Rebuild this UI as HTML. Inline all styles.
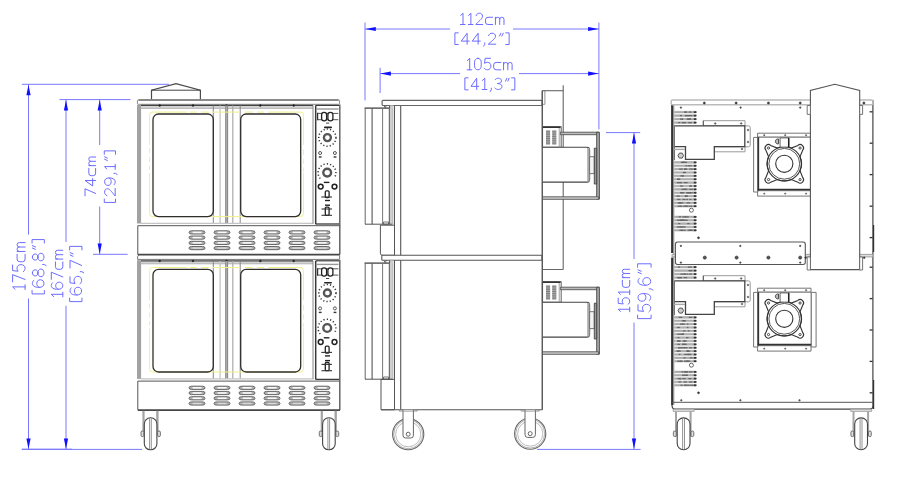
<!DOCTYPE html>
<html><head><meta charset="utf-8"><style>
html,body{margin:0;padding:0;background:#fff;}
body{width:901px;height:478px;overflow:hidden;font-family:"Liberation Sans",sans-serif;}
svg{display:block}
svg path,svg line,svg rect,svg circle,svg polygon{vector-effect:non-scaling-stroke}
</style></head><body>
<svg width="901" height="478" viewBox="0 0 901 478">
<line x1="21.8" y1="84.3" x2="169" y2="84.3" stroke="#7878ff" stroke-width="1.0" />
<line x1="28.5" y1="84.3" x2="28.5" y2="234.6" stroke="#7878ff" stroke-width="1.0" />
<line x1="28.5" y1="298.5" x2="28.5" y2="449.4" stroke="#7878ff" stroke-width="1.0" />
<polygon points="28.5,84.8 26.4,95.3 30.6,95.3" fill="#1010ff"/>
<polygon points="28.5,449 26.4,438.5 30.6,438.5" fill="#1010ff"/>
<line x1="59.5" y1="99.6" x2="130.5" y2="99.6" stroke="#7878ff" stroke-width="1.0" />
<line x1="66" y1="99.6" x2="66" y2="242" stroke="#7878ff" stroke-width="1.0" />
<line x1="66" y1="305.8" x2="66" y2="449.4" stroke="#7878ff" stroke-width="1.0" />
<polygon points="66,100 63.9,110.5 68.1,110.5" fill="#1010ff"/>
<polygon points="66,449 63.9,438.5 68.1,438.5" fill="#1010ff"/>
<line x1="99.7" y1="99.6" x2="99.7" y2="145" stroke="#7878ff" stroke-width="1.0" />
<line x1="99.7" y1="206.5" x2="99.7" y2="254.3" stroke="#7878ff" stroke-width="1.0" />
<line x1="93" y1="254.3" x2="127.7" y2="254.3" stroke="#7878ff" stroke-width="1.0" />
<polygon points="99.7,100 97.60000000000001,110.5 101.8,110.5" fill="#1010ff"/>
<polygon points="99.7,254 97.60000000000001,243.5 101.8,243.5" fill="#1010ff"/>
<line x1="21.8" y1="449.4" x2="142" y2="449.4" stroke="#7878ff" stroke-width="1.0" />
<line x1="21.8" y1="449.2" x2="72" y2="449.2" stroke="#7878ff" stroke-width="1.0" />
<line x1="365" y1="22.5" x2="365" y2="100.4" stroke="#7878ff" stroke-width="1.0" />
<line x1="598.9" y1="22.5" x2="598.9" y2="129.5" stroke="#7878ff" stroke-width="1.0" />
<line x1="365" y1="29" x2="450" y2="29" stroke="#7878ff" stroke-width="1.0" />
<line x1="513" y1="29" x2="598.9" y2="29" stroke="#7878ff" stroke-width="1.0" />
<polygon points="365.3,29 375.8,26.9 375.8,31.1" fill="#1010ff"/>
<polygon points="598.6,29 588.1,26.9 588.1,31.1" fill="#1010ff"/>
<line x1="380.1" y1="67.8" x2="380.1" y2="93" stroke="#7878ff" stroke-width="1.0" />
<line x1="380.1" y1="73.6" x2="460" y2="73.6" stroke="#7878ff" stroke-width="1.0" />
<line x1="519" y1="73.6" x2="598.9" y2="73.6" stroke="#7878ff" stroke-width="1.0" />
<polygon points="380.4,73.6 390.9,71.5 390.9,75.69999999999999" fill="#1010ff"/>
<polygon points="598.6,73.6 588.1,71.5 588.1,75.69999999999999" fill="#1010ff"/>
<line x1="606" y1="132.6" x2="640.2" y2="132.6" stroke="#7878ff" stroke-width="1.0" />
<line x1="537" y1="449.4" x2="640.6" y2="449.4" stroke="#7878ff" stroke-width="1.0" />
<line x1="634" y1="132.6" x2="634" y2="259" stroke="#7878ff" stroke-width="1.0" />
<line x1="634" y1="322.6" x2="634" y2="449.4" stroke="#7878ff" stroke-width="1.0" />
<polygon points="634,133 631.9,143.5 636.1,143.5" fill="#1010ff"/>
<polygon points="634,449 631.9,438.5 636.1,438.5" fill="#1010ff"/>
<g fill="none" stroke="#6c6cff" stroke-width="1.0" stroke-linecap="round" stroke-linejoin="round" style="vector-effect:non-scaling-stroke"><path transform="translate(460.00,13.20) scale(1.1579,1.1300)" d="M0.6,2 L2.6,0 L2.6,10 M0.4,10 L4.4,10"/><path transform="translate(467.87,13.20) scale(1.1579,1.1300)" d="M0.6,2 L2.6,0 L2.6,10 M0.4,10 L4.4,10"/><path transform="translate(475.75,13.20) scale(1.1579,1.1300)" d="M0.3,2.2 C0.8,0.7 1.8,0 3,0 C4.8,0 5.8,1.1 5.8,2.7 C5.8,4.6 4.2,5.8 0,10 L6,10"/><path transform="translate(485.47,13.20) scale(1.1579,1.1300)" d="M6.2,3.6 L2.2,3.6 Q0,3.6 0,5.8 L0,7.8 Q0,10 2.2,10 L6.2,10"/><path transform="translate(495.43,13.20) scale(1.1579,1.1300)" d="M0,10 L0,3.6 M0,5.3 Q0,3.6 1.7,3.6 L2,3.6 Q3.7,3.6 3.7,5.3 L3.7,10 M3.7,5.3 Q3.7,3.6 5.4,3.6 L5.7,3.6 Q7.4,3.6 7.4,5.3 L7.4,10"/></g>
<g fill="none" stroke="#6c6cff" stroke-width="1.0" stroke-linecap="round" stroke-linejoin="round" style="vector-effect:non-scaling-stroke"><path transform="translate(454.50,33.20) scale(1.2500,1.1000)" d="M3,-0.3 L0.3,-0.3 L0.3,10.3 L3,10.3"/><path transform="translate(461.25,33.20) scale(1.2500,1.1000)" d="M4.7,10 L4.7,0 L0,7.2 L6.4,7.2"/><path transform="translate(472.25,33.20) scale(1.2500,1.1000)" d="M4.7,10 L4.7,0 L0,7.2 L6.4,7.2"/><path transform="translate(483.25,33.20) scale(1.2500,1.1000)" d="M1.2,8.8 L1.2,10.2 L0.3,11.8"/><path transform="translate(488.25,33.20) scale(1.2500,1.1000)" d="M0.3,2.2 C0.8,0.7 1.8,0 3,0 C4.8,0 5.8,1.1 5.8,2.7 C5.8,4.6 4.2,5.8 0,10 L6,10"/><path transform="translate(498.75,33.20) scale(1.2500,1.1000)" d="M1.7,0 L0.6,2.6 M3.6,0 L2.5,2.6"/><path transform="translate(505.75,33.20) scale(1.2500,1.1000)" d="M0,-0.3 L2.7,-0.3 L2.7,10.3 L0,10.3"/></g>
<g fill="none" stroke="#6c6cff" stroke-width="1.0" stroke-linecap="round" stroke-linejoin="round" style="vector-effect:non-scaling-stroke"><path transform="translate(466.70,58.30) scale(1.1523,1.1500)" d="M0.6,2 L2.6,0 L2.6,10 M0.4,10 L4.4,10"/><path transform="translate(474.54,58.30) scale(1.1523,1.1500)" d="M2.9,0 C1,0 0,1.6 0,3.6 L0,6.4 C0,8.4 1,10 2.9,10 C4.8,10 5.8,8.4 5.8,6.4 L5.8,3.6 C5.8,1.6 4.8,0 2.9,0 Z"/><path transform="translate(483.98,58.30) scale(1.1523,1.1500)" d="M5.7,0 L1,0 L0.5,4.4 C1.2,3.8 2.1,3.5 3,3.5 C4.8,3.5 6,4.8 6,6.7 C6,8.7 4.7,10 3,10 C1.8,10 0.8,9.5 0.1,8.6"/><path transform="translate(493.66,58.30) scale(1.1523,1.1500)" d="M6.2,3.6 L2.2,3.6 Q0,3.6 0,5.8 L0,7.8 Q0,10 2.2,10 L6.2,10"/><path transform="translate(503.57,58.30) scale(1.1523,1.1500)" d="M0,10 L0,3.6 M0,5.3 Q0,3.6 1.7,3.6 L2,3.6 Q3.7,3.6 3.7,5.3 L3.7,10 M3.7,5.3 Q3.7,3.6 5.4,3.6 L5.7,3.6 Q7.4,3.6 7.4,5.3 L7.4,10"/></g>
<g fill="none" stroke="#6c6cff" stroke-width="1.0" stroke-linecap="round" stroke-linejoin="round" style="vector-effect:non-scaling-stroke"><path transform="translate(464.50,78.20) scale(1.2071,1.1300)" d="M3,-0.3 L0.3,-0.3 L0.3,10.3 L3,10.3"/><path transform="translate(471.02,78.20) scale(1.2071,1.1300)" d="M4.7,10 L4.7,0 L0,7.2 L6.4,7.2"/><path transform="translate(481.64,78.20) scale(1.2071,1.1300)" d="M0.6,2 L2.6,0 L2.6,10 M0.4,10 L4.4,10"/><path transform="translate(489.85,78.20) scale(1.2071,1.1300)" d="M1.2,8.8 L1.2,10.2 L0.3,11.8"/><path transform="translate(494.68,78.20) scale(1.2071,1.1300)" d="M0.4,1.3 C1.1,0.4 2,0 3,0 C4.6,0 5.6,1 5.6,2.4 C5.6,3.9 4.4,4.7 2.6,4.7 M2.6,4.7 C4.7,4.7 6,5.8 6,7.3 C6,9 4.7,10 3,10 C1.8,10 0.8,9.5 0.1,8.6"/><path transform="translate(504.82,78.20) scale(1.2071,1.1300)" d="M1.7,0 L0.6,2.6 M3.6,0 L2.5,2.6"/><path transform="translate(511.58,78.20) scale(1.2071,1.1300)" d="M0,-0.3 L2.7,-0.3 L2.7,10.3 L0,10.3"/></g>
<g fill="none" stroke="#6c6cff" stroke-width="1.0" stroke-linecap="round" stroke-linejoin="round" style="vector-effect:non-scaling-stroke"><path transform="matrix(0,-1.1970,1.2500,0,12.60,290.00)" d="M0.6,2 L2.6,0 L2.6,10 M0.4,10 L4.4,10"/><path transform="matrix(0,-1.1970,1.2500,0,12.60,281.86)" d="M0,0 L6,0 L2,10"/><path transform="matrix(0,-1.1970,1.2500,0,12.60,271.81)" d="M5.7,0 L1,0 L0.5,4.4 C1.2,3.8 2.1,3.5 3,3.5 C4.8,3.5 6,4.8 6,6.7 C6,8.7 4.7,10 3,10 C1.8,10 0.8,9.5 0.1,8.6"/><path transform="matrix(0,-1.1970,1.2500,0,12.60,261.75)" d="M6.2,3.6 L2.2,3.6 Q0,3.6 0,5.8 L0,7.8 Q0,10 2.2,10 L6.2,10"/><path transform="matrix(0,-1.1970,1.2500,0,12.60,251.46)" d="M0,10 L0,3.6 M0,5.3 Q0,3.6 1.7,3.6 L2,3.6 Q3.7,3.6 3.7,5.3 L3.7,10 M3.7,5.3 Q3.7,3.6 5.4,3.6 L5.7,3.6 Q7.4,3.6 7.4,5.3 L7.4,10"/></g>
<g fill="none" stroke="#6c6cff" stroke-width="1.0" stroke-linecap="round" stroke-linejoin="round" style="vector-effect:non-scaling-stroke"><path transform="matrix(0,-1.2755,1.1600,0,32.40,294.30)" d="M3,-0.3 L0.3,-0.3 L0.3,10.3 L3,10.3"/><path transform="matrix(0,-1.2755,1.1600,0,32.40,287.41)" d="M5.5,1.1 C4.9,0.4 4.1,0 3.1,0 C1.2,0 0,2.1 0,5.6 C0,8.5 1.2,10 3,10 C4.8,10 6,8.7 6,6.9 C6,5 4.8,3.8 3.1,3.8 C1.7,3.8 0.5,4.6 0,6"/><path transform="matrix(0,-1.2755,1.1600,0,32.40,276.70)" d="M3,0 C1.6,0 0.6,1 0.6,2.4 C0.6,3.8 1.6,4.7 3,4.7 C4.4,4.7 5.4,3.8 5.4,2.4 C5.4,1 4.4,0 3,0 Z M3,4.7 C1.3,4.7 0,5.7 0,7.3 C0,8.9 1.3,10 3,10 C4.7,10 6,8.9 6,7.3 C6,5.7 4.7,4.7 3,4.7 Z"/><path transform="matrix(0,-1.2755,1.1600,0,32.40,265.98)" d="M1.2,8.8 L1.2,10.2 L0.3,11.8"/><path transform="matrix(0,-1.2755,1.1600,0,32.40,260.88)" d="M3,0 C1.6,0 0.6,1 0.6,2.4 C0.6,3.8 1.6,4.7 3,4.7 C4.4,4.7 5.4,3.8 5.4,2.4 C5.4,1 4.4,0 3,0 Z M3,4.7 C1.3,4.7 0,5.7 0,7.3 C0,8.9 1.3,10 3,10 C4.7,10 6,8.9 6,7.3 C6,5.7 4.7,4.7 3,4.7 Z"/><path transform="matrix(0,-1.2755,1.1600,0,32.40,250.17)" d="M1.7,0 L0.6,2.6 M3.6,0 L2.5,2.6"/><path transform="matrix(0,-1.2755,1.1600,0,32.40,243.03)" d="M0,-0.3 L2.7,-0.3 L2.7,10.3 L0,10.3"/></g>
<g fill="none" stroke="#6c6cff" stroke-width="1.0" stroke-linecap="round" stroke-linejoin="round" style="vector-effect:non-scaling-stroke"><path transform="matrix(0,-1.1894,1.1500,0,51.30,297.40)" d="M0.6,2 L2.6,0 L2.6,10 M0.4,10 L4.4,10"/><path transform="matrix(0,-1.1894,1.1500,0,51.30,289.31)" d="M5.5,1.1 C4.9,0.4 4.1,0 3.1,0 C1.2,0 0,2.1 0,5.6 C0,8.5 1.2,10 3,10 C4.8,10 6,8.7 6,6.9 C6,5 4.8,3.8 3.1,3.8 C1.7,3.8 0.5,4.6 0,6"/><path transform="matrix(0,-1.1894,1.1500,0,51.30,279.32)" d="M0,0 L6,0 L2,10"/><path transform="matrix(0,-1.1894,1.1500,0,51.30,269.33)" d="M6.2,3.6 L2.2,3.6 Q0,3.6 0,5.8 L0,7.8 Q0,10 2.2,10 L6.2,10"/><path transform="matrix(0,-1.1894,1.1500,0,51.30,259.10)" d="M0,10 L0,3.6 M0,5.3 Q0,3.6 1.7,3.6 L2,3.6 Q3.7,3.6 3.7,5.3 L3.7,10 M3.7,5.3 Q3.7,3.6 5.4,3.6 L5.7,3.6 Q7.4,3.6 7.4,5.3 L7.4,10"/></g>
<g fill="none" stroke="#6c6cff" stroke-width="1.0" stroke-linecap="round" stroke-linejoin="round" style="vector-effect:non-scaling-stroke"><path transform="matrix(0,-1.2963,1.1600,0,70.00,302.00)" d="M3,-0.3 L0.3,-0.3 L0.3,10.3 L3,10.3"/><path transform="matrix(0,-1.2963,1.1600,0,70.00,295.00)" d="M5.5,1.1 C4.9,0.4 4.1,0 3.1,0 C1.2,0 0,2.1 0,5.6 C0,8.5 1.2,10 3,10 C4.8,10 6,8.7 6,6.9 C6,5 4.8,3.8 3.1,3.8 C1.7,3.8 0.5,4.6 0,6"/><path transform="matrix(0,-1.2963,1.1600,0,70.00,284.11)" d="M5.7,0 L1,0 L0.5,4.4 C1.2,3.8 2.1,3.5 3,3.5 C4.8,3.5 6,4.8 6,6.7 C6,8.7 4.7,10 3,10 C1.8,10 0.8,9.5 0.1,8.6"/><path transform="matrix(0,-1.2963,1.1600,0,70.00,273.22)" d="M1.2,8.8 L1.2,10.2 L0.3,11.8"/><path transform="matrix(0,-1.2963,1.1600,0,70.00,268.04)" d="M0,0 L6,0 L2,10"/><path transform="matrix(0,-1.2963,1.1600,0,70.00,257.15)" d="M1.7,0 L0.6,2.6 M3.6,0 L2.5,2.6"/><path transform="matrix(0,-1.2963,1.1600,0,70.00,249.89)" d="M0,-0.3 L2.7,-0.3 L2.7,10.3 L0,10.3"/></g>
<g fill="none" stroke="#6c6cff" stroke-width="1.0" stroke-linecap="round" stroke-linejoin="round" style="vector-effect:non-scaling-stroke"><path transform="matrix(0,-1.1687,1.0600,0,85.00,195.80)" d="M0,0 L6,0 L2,10"/><path transform="matrix(0,-1.1687,1.0600,0,85.00,185.98)" d="M4.7,10 L4.7,0 L0,7.2 L6.4,7.2"/><path transform="matrix(0,-1.1687,1.0600,0,85.00,175.70)" d="M6.2,3.6 L2.2,3.6 Q0,3.6 0,5.8 L0,7.8 Q0,10 2.2,10 L6.2,10"/><path transform="matrix(0,-1.1687,1.0600,0,85.00,165.65)" d="M0,10 L0,3.6 M0,5.3 Q0,3.6 1.7,3.6 L2,3.6 Q3.7,3.6 3.7,5.3 L3.7,10 M3.7,5.3 Q3.7,3.6 5.4,3.6 L5.7,3.6 Q7.4,3.6 7.4,5.3 L7.4,10"/></g>
<g fill="none" stroke="#6c6cff" stroke-width="1.0" stroke-linecap="round" stroke-linejoin="round" style="vector-effect:non-scaling-stroke"><path transform="matrix(0,-1.2572,1.0600,0,104.60,202.80)" d="M3,-0.3 L0.3,-0.3 L0.3,10.3 L3,10.3"/><path transform="matrix(0,-1.2572,1.0600,0,104.60,196.01)" d="M0.3,2.2 C0.8,0.7 1.8,0 3,0 C4.8,0 5.8,1.1 5.8,2.7 C5.8,4.6 4.2,5.8 0,10 L6,10"/><path transform="matrix(0,-1.2572,1.0600,0,104.60,185.45)" d="M6,4.4 C5.5,5.5 4.3,6.2 3,6.2 C1.2,6.2 0,5 0,3.1 C0,1.3 1.2,0 3,0 C4.8,0 6,1.5 6,4.4 C6,8 4.8,10 2.9,10 C1.9,10 1.1,9.6 0.5,8.9"/><path transform="matrix(0,-1.2572,1.0600,0,104.60,174.89)" d="M1.2,8.8 L1.2,10.2 L0.3,11.8"/><path transform="matrix(0,-1.2572,1.0600,0,104.60,169.86)" d="M0.6,2 L2.6,0 L2.6,10 M0.4,10 L4.4,10"/><path transform="matrix(0,-1.2572,1.0600,0,104.60,161.31)" d="M1.7,0 L0.6,2.6 M3.6,0 L2.5,2.6"/><path transform="matrix(0,-1.2572,1.0600,0,104.60,154.27)" d="M0,-0.3 L2.7,-0.3 L2.7,10.3 L0,10.3"/></g>
<g fill="none" stroke="#6c6cff" stroke-width="1.0" stroke-linecap="round" stroke-linejoin="round" style="vector-effect:non-scaling-stroke"><path transform="matrix(0,-1.1289,1.1500,0,618.20,312.20)" d="M0.6,2 L2.6,0 L2.6,10 M0.4,10 L4.4,10"/><path transform="matrix(0,-1.1289,1.1500,0,618.20,304.52)" d="M5.7,0 L1,0 L0.5,4.4 C1.2,3.8 2.1,3.5 3,3.5 C4.8,3.5 6,4.8 6,6.7 C6,8.7 4.7,10 3,10 C1.8,10 0.8,9.5 0.1,8.6"/><path transform="matrix(0,-1.1289,1.1500,0,618.20,295.04)" d="M0.6,2 L2.6,0 L2.6,10 M0.4,10 L4.4,10"/><path transform="matrix(0,-1.1289,1.1500,0,618.20,287.36)" d="M6.2,3.6 L2.2,3.6 Q0,3.6 0,5.8 L0,7.8 Q0,10 2.2,10 L6.2,10"/><path transform="matrix(0,-1.1289,1.1500,0,618.20,277.65)" d="M0,10 L0,3.6 M0,5.3 Q0,3.6 1.7,3.6 L2,3.6 Q3.7,3.6 3.7,5.3 L3.7,10 M3.7,5.3 Q3.7,3.6 5.4,3.6 L5.7,3.6 Q7.4,3.6 7.4,5.3 L7.4,10"/></g>
<g fill="none" stroke="#6c6cff" stroke-width="1.0" stroke-linecap="round" stroke-linejoin="round" style="vector-effect:non-scaling-stroke"><path transform="matrix(0,-1.2870,1.2700,0,638.00,319.00)" d="M3,-0.3 L0.3,-0.3 L0.3,10.3 L3,10.3"/><path transform="matrix(0,-1.2870,1.2700,0,638.00,312.05)" d="M5.7,0 L1,0 L0.5,4.4 C1.2,3.8 2.1,3.5 3,3.5 C4.8,3.5 6,4.8 6,6.7 C6,8.7 4.7,10 3,10 C1.8,10 0.8,9.5 0.1,8.6"/><path transform="matrix(0,-1.2870,1.2700,0,638.00,301.24)" d="M6,4.4 C5.5,5.5 4.3,6.2 3,6.2 C1.2,6.2 0,5 0,3.1 C0,1.3 1.2,0 3,0 C4.8,0 6,1.5 6,4.4 C6,8 4.8,10 2.9,10 C1.9,10 1.1,9.6 0.5,8.9"/><path transform="matrix(0,-1.2870,1.2700,0,638.00,290.43)" d="M1.2,8.8 L1.2,10.2 L0.3,11.8"/><path transform="matrix(0,-1.2870,1.2700,0,638.00,285.28)" d="M5.5,1.1 C4.9,0.4 4.1,0 3.1,0 C1.2,0 0,2.1 0,5.6 C0,8.5 1.2,10 3,10 C4.8,10 6,8.7 6,6.9 C6,5 4.8,3.8 3.1,3.8 C1.7,3.8 0.5,4.6 0,6"/><path transform="matrix(0,-1.2870,1.2700,0,638.00,274.47)" d="M1.7,0 L0.6,2.6 M3.6,0 L2.5,2.6"/><path transform="matrix(0,-1.2870,1.2700,0,638.00,267.26)" d="M0,-0.3 L2.7,-0.3 L2.7,10.3 L0,10.3"/></g>
<path d="M151.5,99.6 L151.5,90.2 L176,83.6 L200.4,90.2 L200.4,99.6" fill="#fff" stroke="#4a4a4a" stroke-width="1.2" />
<line x1="151.5" y1="90.2" x2="200.4" y2="90.2" stroke="#444" stroke-width="1.0" />
<rect x="137.4" y="100.0" width="202.2" height="4.3" rx="1" fill="none" stroke="#888" stroke-width="1.0" />
<line x1="138.5" y1="100.0" x2="338.6" y2="100.0" stroke="#777" stroke-width="1.5" />
<rect x="137.0" y="104.8" width="4.099999999999994" height="118.7" rx="0" fill="#a2a2a2" stroke="none" stroke-width="0" />
<rect x="141" y="105.6" width="172" height="2.8000000000000114" rx="0" fill="#d4d4d4" stroke="none" stroke-width="0" />
<line x1="141" y1="108.4" x2="313" y2="108.4" stroke="#aaa" stroke-width="0.8" />
<line x1="141" y1="105.4" x2="313" y2="105.4" stroke="#444" stroke-width="1.2" />
<circle cx="159.7" cy="105.5" r="1.0" fill="#222" stroke="#222" stroke-width="0.4" />
<circle cx="193" cy="105.5" r="1.0" fill="#222" stroke="#222" stroke-width="0.4" />
<circle cx="226.6" cy="105.5" r="1.0" fill="#222" stroke="#222" stroke-width="0.4" />
<circle cx="260.3" cy="105.5" r="1.0" fill="#222" stroke="#222" stroke-width="0.4" />
<circle cx="293.7" cy="105.5" r="1.0" fill="#222" stroke="#222" stroke-width="0.4" />
<rect x="225.7" y="105.6" width="1.9000000000000057" height="117.70000000000002" rx="0" fill="#b4b4b4" stroke="none" stroke-width="0" />
<line x1="213.3" y1="105.6" x2="213.3" y2="223.3" stroke="#888" stroke-width="1.0" />
<line x1="220.1" y1="105.6" x2="220.1" y2="223.3" stroke="#c4c4c4" stroke-width="1.3" />
<line x1="225.7" y1="105.6" x2="225.7" y2="223.3" stroke="#8a8a8a" stroke-width="1.1" />
<line x1="227.6" y1="105.6" x2="227.6" y2="223.3" stroke="#8a8a8a" stroke-width="1.1" />
<line x1="232.8" y1="105.6" x2="232.8" y2="223.3" stroke="#aaa" stroke-width="1.2" />
<line x1="240.2" y1="105.6" x2="240.2" y2="223.3" stroke="#888" stroke-width="1.0" />
<path d="M149.6,145 L149.6,115.1 Q149.6,112.1 152.6,112.1 L187,112.1 M190,112.1 L197,112.1 M201,112.1 L209,112.1 M213,112.1 L240,112.1 M245,112.1 L253,112.1 M257,112.1 L264,112.1 M268,112.1 L300.4,112.1 Q303.4,112.1 303.4,115.1 L303.4,145 M149.6,148 L149.6,153 M149.6,157 L149.6,162 M149.6,165.5 L149.6,170 M149.6,173 L149.6,213.6 Q149.6,216.6 152.6,216.6 L300.4,216.6 Q303.4,216.6 303.4,213.6 L303.4,173 M303.4,149.5 L303.4,155 M303.4,159 L303.4,164 M303.4,167.5 L303.4,172" fill="none" stroke="#f0f08c" stroke-width="1.0" />
<rect x="153" y="114.0" width="60.3" height="102.6" rx="5.5" fill="none" stroke="#2e2e2e" stroke-width="1.3" />
<rect x="240.7" y="114.0" width="60.0" height="102.6" rx="5.5" fill="none" stroke="#2e2e2e" stroke-width="1.3" />
<line x1="141" y1="223.4" x2="313.5" y2="223.4" stroke="#c4c4c4" stroke-width="1.2" />
<line x1="313.0" y1="105.6" x2="313.0" y2="223.6" stroke="#888" stroke-width="1.0" />
<line x1="315.7" y1="105.4" x2="315.7" y2="224.2" stroke="#3a3a3a" stroke-width="1.5" />
<line x1="315.7" y1="105.4" x2="339" y2="105.4" stroke="#3a3a3a" stroke-width="1.2" />
<line x1="316.5" y1="109" x2="338.5" y2="109" stroke="#999" stroke-width="1.4" />
<line x1="315.7" y1="224.0" x2="339" y2="224.0" stroke="#3a3a3a" stroke-width="1.3" />
<line x1="317.6" y1="113.4" x2="338.3" y2="113.4" stroke="#444" stroke-width="0.9" />
<line x1="317.6" y1="119.7" x2="338.3" y2="119.7" stroke="#444" stroke-width="0.9" />
<line x1="317.6" y1="112.8" x2="317.6" y2="120.3" stroke="#333" stroke-width="1.2" />
<g fill="none" stroke="#222" stroke-width="1.3"><rect x="321.6" y="112.4" width="5.0" height="8.4" rx="2.4" fill="#fff"/><rect x="327.9" y="112.4" width="5.0" height="8.4" rx="2.4" fill="#fff"/></g>
<line x1="326" y1="123.1" x2="329.2" y2="123.1" stroke="#444" stroke-width="1.0" />
<line x1="324.8" y1="127.4" x2="331.2" y2="127.4" stroke="#222" stroke-width="1.6" stroke-linecap="round"/>
<circle cx="327.4" cy="137.6" r="3.5" fill="none" stroke="#555" stroke-width="2.3" />
<circle cx="327.4" cy="137.6" r="8.6" fill="none" stroke="#333" stroke-width="1.5" stroke-dasharray="1.2 2.1"/>
<circle cx="320.1" cy="153" r="1.5" fill="none" stroke="#555" stroke-width="1.0" />
<circle cx="334.9" cy="153" r="1.5" fill="none" stroke="#555" stroke-width="1.0" />
<line x1="318.8" y1="157" x2="321.6" y2="157" stroke="#333" stroke-width="1.4" />
<line x1="333.6" y1="157" x2="336.4" y2="157" stroke="#333" stroke-width="1.4" />
<circle cx="327.2" cy="172.6" r="3.9" fill="none" stroke="#555" stroke-width="2.4" />
<path d="M320.3,178.6 A8.9,8.9 0 1 1 335.0,176.6" fill="none" stroke="#333" stroke-width="1.5" stroke-dasharray="1.2 2.1"/>
<circle cx="320.7" cy="186.6" r="2.4" fill="none" stroke="#222" stroke-width="1.5" />
<circle cx="334.5" cy="186.6" r="2.4" fill="none" stroke="#222" stroke-width="1.5" />
<line x1="323.8" y1="182.4" x2="329.4" y2="182.4" stroke="#222" stroke-width="1.4" />
<rect x="325.3" y="190.8" width="3.8" height="6.9" rx="1.2" fill="none" stroke="#222" stroke-width="1.3" />
<line x1="321.3" y1="197" x2="332" y2="197" stroke="#333" stroke-width="1.1" />
<line x1="325" y1="200.5" x2="330" y2="200.5" stroke="#222" stroke-width="1.4" />
<line x1="325" y1="205.2" x2="330" y2="205.2" stroke="#222" stroke-width="1.4" />
<rect x="325.3" y="207.1" width="3.8" height="8.2" rx="1.0" fill="none" stroke="#222" stroke-width="1.3" />
<line x1="321.5" y1="209" x2="332" y2="209" stroke="#333" stroke-width="1.1" />
<line x1="321.5" y1="215.3" x2="332" y2="215.3" stroke="#333" stroke-width="1.1" />
<line x1="137.8" y1="225.7" x2="340" y2="225.7" stroke="#555" stroke-width="1.0" />
<line x1="137.8" y1="225.7" x2="137.8" y2="254.5" stroke="#555" stroke-width="1.0" />
<path d="M189.0,232.40 Q189.0,230.80 191.5,230.80 L202.5,230.80 Q205.0,230.80 205.0,232.40 Q205.0,234.00 202.5,234.00 L191.5,234.00 Q189.0,234.00 189.0,232.40 Z" fill="#b0b0b0" stroke="#5a5a5a" stroke-width="0.9" />
<rect x="192.6" y="231.6" width="9.0" height="1.6000000000000227" rx="0" fill="#fafafa" stroke="none" stroke-width="0" />
<path d="M189.0,237.60 Q189.0,236.00 191.5,236.00 L202.5,236.00 Q205.0,236.00 205.0,237.60 Q205.0,239.20 202.5,239.20 L191.5,239.20 Q189.0,239.20 189.0,237.60 Z" fill="#b0b0b0" stroke="#5a5a5a" stroke-width="0.9" />
<rect x="192.6" y="236.79999999999998" width="9.0" height="1.6000000000000227" rx="0" fill="#fafafa" stroke="none" stroke-width="0" />
<path d="M189.0,242.90 Q189.0,241.30 191.5,241.30 L202.5,241.30 Q205.0,241.30 205.0,242.90 Q205.0,244.50 202.5,244.50 L191.5,244.50 Q189.0,244.50 189.0,242.90 Z" fill="#b0b0b0" stroke="#5a5a5a" stroke-width="0.9" />
<rect x="192.6" y="242.1" width="9.0" height="1.6000000000000227" rx="0" fill="#fafafa" stroke="none" stroke-width="0" />
<path d="M189.0,248.10 Q189.0,246.50 191.5,246.50 L202.5,246.50 Q205.0,246.50 205.0,248.10 Q205.0,249.70 202.5,249.70 L191.5,249.70 Q189.0,249.70 189.0,248.10 Z" fill="#b0b0b0" stroke="#5a5a5a" stroke-width="0.9" />
<rect x="192.6" y="247.29999999999998" width="9.0" height="1.6000000000000227" rx="0" fill="#d8d8d8" stroke="none" stroke-width="0" />
<path d="M214.0,232.40 Q214.0,230.80 216.5,230.80 L227.5,230.80 Q230.0,230.80 230.0,232.40 Q230.0,234.00 227.5,234.00 L216.5,234.00 Q214.0,234.00 214.0,232.40 Z" fill="#b0b0b0" stroke="#5a5a5a" stroke-width="0.9" />
<rect x="217.6" y="231.6" width="9.0" height="1.6000000000000227" rx="0" fill="#fafafa" stroke="none" stroke-width="0" />
<path d="M214.0,237.60 Q214.0,236.00 216.5,236.00 L227.5,236.00 Q230.0,236.00 230.0,237.60 Q230.0,239.20 227.5,239.20 L216.5,239.20 Q214.0,239.20 214.0,237.60 Z" fill="#b0b0b0" stroke="#5a5a5a" stroke-width="0.9" />
<rect x="217.6" y="236.79999999999998" width="9.0" height="1.6000000000000227" rx="0" fill="#fafafa" stroke="none" stroke-width="0" />
<path d="M214.0,242.90 Q214.0,241.30 216.5,241.30 L227.5,241.30 Q230.0,241.30 230.0,242.90 Q230.0,244.50 227.5,244.50 L216.5,244.50 Q214.0,244.50 214.0,242.90 Z" fill="#b0b0b0" stroke="#5a5a5a" stroke-width="0.9" />
<rect x="217.6" y="242.1" width="9.0" height="1.6000000000000227" rx="0" fill="#fafafa" stroke="none" stroke-width="0" />
<path d="M214.0,248.10 Q214.0,246.50 216.5,246.50 L227.5,246.50 Q230.0,246.50 230.0,248.10 Q230.0,249.70 227.5,249.70 L216.5,249.70 Q214.0,249.70 214.0,248.10 Z" fill="#b0b0b0" stroke="#5a5a5a" stroke-width="0.9" />
<rect x="217.6" y="247.29999999999998" width="9.0" height="1.6000000000000227" rx="0" fill="#d8d8d8" stroke="none" stroke-width="0" />
<path d="M239.0,232.40 Q239.0,230.80 241.5,230.80 L252.5,230.80 Q255.0,230.80 255.0,232.40 Q255.0,234.00 252.5,234.00 L241.5,234.00 Q239.0,234.00 239.0,232.40 Z" fill="#b0b0b0" stroke="#5a5a5a" stroke-width="0.9" />
<rect x="242.6" y="231.6" width="9.0" height="1.6000000000000227" rx="0" fill="#fafafa" stroke="none" stroke-width="0" />
<path d="M239.0,237.60 Q239.0,236.00 241.5,236.00 L252.5,236.00 Q255.0,236.00 255.0,237.60 Q255.0,239.20 252.5,239.20 L241.5,239.20 Q239.0,239.20 239.0,237.60 Z" fill="#b0b0b0" stroke="#5a5a5a" stroke-width="0.9" />
<rect x="242.6" y="236.79999999999998" width="9.0" height="1.6000000000000227" rx="0" fill="#fafafa" stroke="none" stroke-width="0" />
<path d="M239.0,242.90 Q239.0,241.30 241.5,241.30 L252.5,241.30 Q255.0,241.30 255.0,242.90 Q255.0,244.50 252.5,244.50 L241.5,244.50 Q239.0,244.50 239.0,242.90 Z" fill="#b0b0b0" stroke="#5a5a5a" stroke-width="0.9" />
<rect x="242.6" y="242.1" width="9.0" height="1.6000000000000227" rx="0" fill="#fafafa" stroke="none" stroke-width="0" />
<path d="M239.0,248.10 Q239.0,246.50 241.5,246.50 L252.5,246.50 Q255.0,246.50 255.0,248.10 Q255.0,249.70 252.5,249.70 L241.5,249.70 Q239.0,249.70 239.0,248.10 Z" fill="#b0b0b0" stroke="#5a5a5a" stroke-width="0.9" />
<rect x="242.6" y="247.29999999999998" width="9.0" height="1.6000000000000227" rx="0" fill="#d8d8d8" stroke="none" stroke-width="0" />
<path d="M264.0,232.40 Q264.0,230.80 266.5,230.80 L277.5,230.80 Q280.0,230.80 280.0,232.40 Q280.0,234.00 277.5,234.00 L266.5,234.00 Q264.0,234.00 264.0,232.40 Z" fill="#b0b0b0" stroke="#5a5a5a" stroke-width="0.9" />
<rect x="267.6" y="231.6" width="9.0" height="1.6000000000000227" rx="0" fill="#fafafa" stroke="none" stroke-width="0" />
<path d="M264.0,237.60 Q264.0,236.00 266.5,236.00 L277.5,236.00 Q280.0,236.00 280.0,237.60 Q280.0,239.20 277.5,239.20 L266.5,239.20 Q264.0,239.20 264.0,237.60 Z" fill="#b0b0b0" stroke="#5a5a5a" stroke-width="0.9" />
<rect x="267.6" y="236.79999999999998" width="9.0" height="1.6000000000000227" rx="0" fill="#fafafa" stroke="none" stroke-width="0" />
<path d="M264.0,242.90 Q264.0,241.30 266.5,241.30 L277.5,241.30 Q280.0,241.30 280.0,242.90 Q280.0,244.50 277.5,244.50 L266.5,244.50 Q264.0,244.50 264.0,242.90 Z" fill="#b0b0b0" stroke="#5a5a5a" stroke-width="0.9" />
<rect x="267.6" y="242.1" width="9.0" height="1.6000000000000227" rx="0" fill="#fafafa" stroke="none" stroke-width="0" />
<path d="M264.0,248.10 Q264.0,246.50 266.5,246.50 L277.5,246.50 Q280.0,246.50 280.0,248.10 Q280.0,249.70 277.5,249.70 L266.5,249.70 Q264.0,249.70 264.0,248.10 Z" fill="#b0b0b0" stroke="#5a5a5a" stroke-width="0.9" />
<rect x="267.6" y="247.29999999999998" width="9.0" height="1.6000000000000227" rx="0" fill="#d8d8d8" stroke="none" stroke-width="0" />
<path d="M289.0,232.40 Q289.0,230.80 291.5,230.80 L302.5,230.80 Q305.0,230.80 305.0,232.40 Q305.0,234.00 302.5,234.00 L291.5,234.00 Q289.0,234.00 289.0,232.40 Z" fill="#b0b0b0" stroke="#5a5a5a" stroke-width="0.9" />
<rect x="292.6" y="231.6" width="9.0" height="1.6000000000000227" rx="0" fill="#fafafa" stroke="none" stroke-width="0" />
<path d="M289.0,237.60 Q289.0,236.00 291.5,236.00 L302.5,236.00 Q305.0,236.00 305.0,237.60 Q305.0,239.20 302.5,239.20 L291.5,239.20 Q289.0,239.20 289.0,237.60 Z" fill="#b0b0b0" stroke="#5a5a5a" stroke-width="0.9" />
<rect x="292.6" y="236.79999999999998" width="9.0" height="1.6000000000000227" rx="0" fill="#fafafa" stroke="none" stroke-width="0" />
<path d="M289.0,242.90 Q289.0,241.30 291.5,241.30 L302.5,241.30 Q305.0,241.30 305.0,242.90 Q305.0,244.50 302.5,244.50 L291.5,244.50 Q289.0,244.50 289.0,242.90 Z" fill="#b0b0b0" stroke="#5a5a5a" stroke-width="0.9" />
<rect x="292.6" y="242.1" width="9.0" height="1.6000000000000227" rx="0" fill="#fafafa" stroke="none" stroke-width="0" />
<path d="M289.0,248.10 Q289.0,246.50 291.5,246.50 L302.5,246.50 Q305.0,246.50 305.0,248.10 Q305.0,249.70 302.5,249.70 L291.5,249.70 Q289.0,249.70 289.0,248.10 Z" fill="#b0b0b0" stroke="#5a5a5a" stroke-width="0.9" />
<rect x="292.6" y="247.29999999999998" width="9.0" height="1.6000000000000227" rx="0" fill="#d8d8d8" stroke="none" stroke-width="0" />
<path d="M314.0,232.40 Q314.0,230.80 316.5,230.80 L327.5,230.80 Q330.0,230.80 330.0,232.40 Q330.0,234.00 327.5,234.00 L316.5,234.00 Q314.0,234.00 314.0,232.40 Z" fill="#b0b0b0" stroke="#5a5a5a" stroke-width="0.9" />
<rect x="317.6" y="231.6" width="9.0" height="1.6000000000000227" rx="0" fill="#fafafa" stroke="none" stroke-width="0" />
<path d="M314.0,237.60 Q314.0,236.00 316.5,236.00 L327.5,236.00 Q330.0,236.00 330.0,237.60 Q330.0,239.20 327.5,239.20 L316.5,239.20 Q314.0,239.20 314.0,237.60 Z" fill="#b0b0b0" stroke="#5a5a5a" stroke-width="0.9" />
<rect x="317.6" y="236.79999999999998" width="9.0" height="1.6000000000000227" rx="0" fill="#fafafa" stroke="none" stroke-width="0" />
<path d="M314.0,242.90 Q314.0,241.30 316.5,241.30 L327.5,241.30 Q330.0,241.30 330.0,242.90 Q330.0,244.50 327.5,244.50 L316.5,244.50 Q314.0,244.50 314.0,242.90 Z" fill="#b0b0b0" stroke="#5a5a5a" stroke-width="0.9" />
<rect x="317.6" y="242.1" width="9.0" height="1.6000000000000227" rx="0" fill="#fafafa" stroke="none" stroke-width="0" />
<path d="M314.0,248.10 Q314.0,246.50 316.5,246.50 L327.5,246.50 Q330.0,246.50 330.0,248.10 Q330.0,249.70 327.5,249.70 L316.5,249.70 Q314.0,249.70 314.0,248.10 Z" fill="#b0b0b0" stroke="#5a5a5a" stroke-width="0.9" />
<rect x="317.6" y="247.29999999999998" width="9.0" height="1.6000000000000227" rx="0" fill="#d8d8d8" stroke="none" stroke-width="0" />
<line x1="137.8" y1="254.7" x2="340" y2="254.7" stroke="#464646" stroke-width="1.7" />
<line x1="339.8" y1="104.5" x2="339.8" y2="254.6" stroke="#5a5a5a" stroke-width="1.4" />
<path d="M139,255.4 Q137.6,255.4 137.6,256.8 L137.6,259.4 L339.6,259.4 L339.6,255.4" fill="none" stroke="#777" stroke-width="1.0" />
<rect x="137.0" y="260.2" width="4.099999999999994" height="118.69999999999999" rx="0" fill="#a2a2a2" stroke="none" stroke-width="0" />
<rect x="141" y="261.0" width="172" height="2.8000000000000114" rx="0" fill="#d4d4d4" stroke="none" stroke-width="0" />
<line x1="141" y1="263.8" x2="313" y2="263.8" stroke="#aaa" stroke-width="0.8" />
<line x1="141" y1="260.8" x2="313" y2="260.8" stroke="#444" stroke-width="1.2" />
<circle cx="159.7" cy="260.9" r="1.0" fill="#222" stroke="#222" stroke-width="0.4" />
<circle cx="193" cy="260.9" r="1.0" fill="#222" stroke="#222" stroke-width="0.4" />
<circle cx="226.6" cy="260.9" r="1.0" fill="#222" stroke="#222" stroke-width="0.4" />
<circle cx="260.3" cy="260.9" r="1.0" fill="#222" stroke="#222" stroke-width="0.4" />
<circle cx="293.7" cy="260.9" r="1.0" fill="#222" stroke="#222" stroke-width="0.4" />
<rect x="225.7" y="261.0" width="1.9000000000000057" height="117.70000000000005" rx="0" fill="#b4b4b4" stroke="none" stroke-width="0" />
<line x1="213.3" y1="261.0" x2="213.3" y2="378.70000000000005" stroke="#888" stroke-width="1.0" />
<line x1="220.1" y1="261.0" x2="220.1" y2="378.70000000000005" stroke="#c4c4c4" stroke-width="1.3" />
<line x1="225.7" y1="261.0" x2="225.7" y2="378.70000000000005" stroke="#8a8a8a" stroke-width="1.1" />
<line x1="227.6" y1="261.0" x2="227.6" y2="378.70000000000005" stroke="#8a8a8a" stroke-width="1.1" />
<line x1="232.8" y1="261.0" x2="232.8" y2="378.70000000000005" stroke="#aaa" stroke-width="1.2" />
<line x1="240.2" y1="261.0" x2="240.2" y2="378.70000000000005" stroke="#888" stroke-width="1.0" />
<path d="M149.6,300.4 L149.6,270.5 Q149.6,267.5 152.6,267.5 L187,267.5 M190,267.5 L197,267.5 M201,267.5 L209,267.5 M213,267.5 L240,267.5 M245,267.5 L253,267.5 M257,267.5 L264,267.5 M268,267.5 L300.4,267.5 Q303.4,267.5 303.4,270.5 L303.4,300.4 M149.6,303.4 L149.6,308.4 M149.6,312.4 L149.6,317.4 M149.6,320.9 L149.6,325.4 M149.6,328.4 L149.6,369.0 Q149.6,372.0 152.6,372.0 L300.4,372.0 Q303.4,372.0 303.4,369.0 L303.4,328.4 M303.4,304.9 L303.4,310.4 M303.4,314.4 L303.4,319.4 M303.4,322.9 L303.4,327.4" fill="none" stroke="#f0f08c" stroke-width="1.0" />
<rect x="153" y="269.4" width="60.3" height="102.6" rx="5.5" fill="none" stroke="#2e2e2e" stroke-width="1.3" />
<rect x="240.7" y="269.4" width="60.0" height="102.6" rx="5.5" fill="none" stroke="#2e2e2e" stroke-width="1.3" />
<line x1="141" y1="378.8" x2="313.5" y2="378.8" stroke="#c4c4c4" stroke-width="1.2" />
<line x1="313.0" y1="261.0" x2="313.0" y2="379.0" stroke="#888" stroke-width="1.0" />
<line x1="315.7" y1="260.8" x2="315.7" y2="379.6" stroke="#3a3a3a" stroke-width="1.5" />
<line x1="315.7" y1="260.8" x2="339" y2="260.8" stroke="#3a3a3a" stroke-width="1.2" />
<line x1="316.5" y1="264.4" x2="338.5" y2="264.4" stroke="#999" stroke-width="1.4" />
<line x1="315.7" y1="379.4" x2="339" y2="379.4" stroke="#3a3a3a" stroke-width="1.3" />
<line x1="317.6" y1="268.8" x2="338.3" y2="268.8" stroke="#444" stroke-width="0.9" />
<line x1="317.6" y1="275.1" x2="338.3" y2="275.1" stroke="#444" stroke-width="0.9" />
<line x1="317.6" y1="268.2" x2="317.6" y2="275.7" stroke="#333" stroke-width="1.2" />
<g fill="none" stroke="#222" stroke-width="1.3"><rect x="321.6" y="267.8" width="5.0" height="8.4" rx="2.4" fill="#fff"/><rect x="327.9" y="267.8" width="5.0" height="8.4" rx="2.4" fill="#fff"/></g>
<line x1="326" y1="278.5" x2="329.2" y2="278.5" stroke="#444" stroke-width="1.0" />
<line x1="324.8" y1="282.8" x2="331.2" y2="282.8" stroke="#222" stroke-width="1.6" stroke-linecap="round"/>
<circle cx="327.4" cy="293.0" r="3.5" fill="none" stroke="#555" stroke-width="2.3" />
<circle cx="327.4" cy="293.0" r="8.6" fill="none" stroke="#333" stroke-width="1.5" stroke-dasharray="1.2 2.1"/>
<circle cx="320.1" cy="308.4" r="1.5" fill="none" stroke="#555" stroke-width="1.0" />
<circle cx="334.9" cy="308.4" r="1.5" fill="none" stroke="#555" stroke-width="1.0" />
<line x1="318.8" y1="312.4" x2="321.6" y2="312.4" stroke="#333" stroke-width="1.4" />
<line x1="333.6" y1="312.4" x2="336.4" y2="312.4" stroke="#333" stroke-width="1.4" />
<circle cx="327.2" cy="328.0" r="3.9" fill="none" stroke="#555" stroke-width="2.4" />
<path d="M320.3,334.0 A8.9,8.9 0 1 1 335.0,332.0" fill="none" stroke="#333" stroke-width="1.5" stroke-dasharray="1.2 2.1"/>
<circle cx="320.7" cy="342.0" r="2.4" fill="none" stroke="#222" stroke-width="1.5" />
<circle cx="334.5" cy="342.0" r="2.4" fill="none" stroke="#222" stroke-width="1.5" />
<line x1="323.8" y1="337.8" x2="329.4" y2="337.8" stroke="#222" stroke-width="1.4" />
<rect x="325.3" y="346.20000000000005" width="3.8" height="6.9" rx="1.2" fill="none" stroke="#222" stroke-width="1.3" />
<line x1="321.3" y1="352.4" x2="332" y2="352.4" stroke="#333" stroke-width="1.1" />
<line x1="325" y1="355.9" x2="330" y2="355.9" stroke="#222" stroke-width="1.4" />
<line x1="325" y1="360.6" x2="330" y2="360.6" stroke="#222" stroke-width="1.4" />
<rect x="325.3" y="362.5" width="3.8" height="8.2" rx="1.0" fill="none" stroke="#222" stroke-width="1.3" />
<line x1="321.5" y1="364.4" x2="332" y2="364.4" stroke="#333" stroke-width="1.1" />
<line x1="321.5" y1="370.70000000000005" x2="332" y2="370.70000000000005" stroke="#333" stroke-width="1.1" />
<line x1="137.8" y1="381.1" x2="340" y2="381.1" stroke="#555" stroke-width="1.0" />
<line x1="137.8" y1="381.1" x2="137.8" y2="409.9" stroke="#555" stroke-width="1.0" />
<path d="M189.0,387.80 Q189.0,386.20 191.5,386.20 L202.5,386.20 Q205.0,386.20 205.0,387.80 Q205.0,389.40 202.5,389.40 L191.5,389.40 Q189.0,389.40 189.0,387.80 Z" fill="#b0b0b0" stroke="#5a5a5a" stroke-width="0.9" />
<rect x="192.6" y="387.0" width="9.0" height="1.6000000000000227" rx="0" fill="#fafafa" stroke="none" stroke-width="0" />
<path d="M189.0,393.00 Q189.0,391.40 191.5,391.40 L202.5,391.40 Q205.0,391.40 205.0,393.00 Q205.0,394.60 202.5,394.60 L191.5,394.60 Q189.0,394.60 189.0,393.00 Z" fill="#b0b0b0" stroke="#5a5a5a" stroke-width="0.9" />
<rect x="192.6" y="392.2" width="9.0" height="1.6000000000000227" rx="0" fill="#fafafa" stroke="none" stroke-width="0" />
<path d="M189.0,398.30 Q189.0,396.70 191.5,396.70 L202.5,396.70 Q205.0,396.70 205.0,398.30 Q205.0,399.90 202.5,399.90 L191.5,399.90 Q189.0,399.90 189.0,398.30 Z" fill="#b0b0b0" stroke="#5a5a5a" stroke-width="0.9" />
<rect x="192.6" y="397.5" width="9.0" height="1.6000000000000227" rx="0" fill="#fafafa" stroke="none" stroke-width="0" />
<path d="M189.0,403.50 Q189.0,401.90 191.5,401.90 L202.5,401.90 Q205.0,401.90 205.0,403.50 Q205.0,405.10 202.5,405.10 L191.5,405.10 Q189.0,405.10 189.0,403.50 Z" fill="#b0b0b0" stroke="#5a5a5a" stroke-width="0.9" />
<rect x="192.6" y="402.7" width="9.0" height="1.6000000000000227" rx="0" fill="#d8d8d8" stroke="none" stroke-width="0" />
<path d="M214.0,387.80 Q214.0,386.20 216.5,386.20 L227.5,386.20 Q230.0,386.20 230.0,387.80 Q230.0,389.40 227.5,389.40 L216.5,389.40 Q214.0,389.40 214.0,387.80 Z" fill="#b0b0b0" stroke="#5a5a5a" stroke-width="0.9" />
<rect x="217.6" y="387.0" width="9.0" height="1.6000000000000227" rx="0" fill="#fafafa" stroke="none" stroke-width="0" />
<path d="M214.0,393.00 Q214.0,391.40 216.5,391.40 L227.5,391.40 Q230.0,391.40 230.0,393.00 Q230.0,394.60 227.5,394.60 L216.5,394.60 Q214.0,394.60 214.0,393.00 Z" fill="#b0b0b0" stroke="#5a5a5a" stroke-width="0.9" />
<rect x="217.6" y="392.2" width="9.0" height="1.6000000000000227" rx="0" fill="#fafafa" stroke="none" stroke-width="0" />
<path d="M214.0,398.30 Q214.0,396.70 216.5,396.70 L227.5,396.70 Q230.0,396.70 230.0,398.30 Q230.0,399.90 227.5,399.90 L216.5,399.90 Q214.0,399.90 214.0,398.30 Z" fill="#b0b0b0" stroke="#5a5a5a" stroke-width="0.9" />
<rect x="217.6" y="397.5" width="9.0" height="1.6000000000000227" rx="0" fill="#fafafa" stroke="none" stroke-width="0" />
<path d="M214.0,403.50 Q214.0,401.90 216.5,401.90 L227.5,401.90 Q230.0,401.90 230.0,403.50 Q230.0,405.10 227.5,405.10 L216.5,405.10 Q214.0,405.10 214.0,403.50 Z" fill="#b0b0b0" stroke="#5a5a5a" stroke-width="0.9" />
<rect x="217.6" y="402.7" width="9.0" height="1.6000000000000227" rx="0" fill="#d8d8d8" stroke="none" stroke-width="0" />
<path d="M239.0,387.80 Q239.0,386.20 241.5,386.20 L252.5,386.20 Q255.0,386.20 255.0,387.80 Q255.0,389.40 252.5,389.40 L241.5,389.40 Q239.0,389.40 239.0,387.80 Z" fill="#b0b0b0" stroke="#5a5a5a" stroke-width="0.9" />
<rect x="242.6" y="387.0" width="9.0" height="1.6000000000000227" rx="0" fill="#fafafa" stroke="none" stroke-width="0" />
<path d="M239.0,393.00 Q239.0,391.40 241.5,391.40 L252.5,391.40 Q255.0,391.40 255.0,393.00 Q255.0,394.60 252.5,394.60 L241.5,394.60 Q239.0,394.60 239.0,393.00 Z" fill="#b0b0b0" stroke="#5a5a5a" stroke-width="0.9" />
<rect x="242.6" y="392.2" width="9.0" height="1.6000000000000227" rx="0" fill="#fafafa" stroke="none" stroke-width="0" />
<path d="M239.0,398.30 Q239.0,396.70 241.5,396.70 L252.5,396.70 Q255.0,396.70 255.0,398.30 Q255.0,399.90 252.5,399.90 L241.5,399.90 Q239.0,399.90 239.0,398.30 Z" fill="#b0b0b0" stroke="#5a5a5a" stroke-width="0.9" />
<rect x="242.6" y="397.5" width="9.0" height="1.6000000000000227" rx="0" fill="#fafafa" stroke="none" stroke-width="0" />
<path d="M239.0,403.50 Q239.0,401.90 241.5,401.90 L252.5,401.90 Q255.0,401.90 255.0,403.50 Q255.0,405.10 252.5,405.10 L241.5,405.10 Q239.0,405.10 239.0,403.50 Z" fill="#b0b0b0" stroke="#5a5a5a" stroke-width="0.9" />
<rect x="242.6" y="402.7" width="9.0" height="1.6000000000000227" rx="0" fill="#d8d8d8" stroke="none" stroke-width="0" />
<path d="M264.0,387.80 Q264.0,386.20 266.5,386.20 L277.5,386.20 Q280.0,386.20 280.0,387.80 Q280.0,389.40 277.5,389.40 L266.5,389.40 Q264.0,389.40 264.0,387.80 Z" fill="#b0b0b0" stroke="#5a5a5a" stroke-width="0.9" />
<rect x="267.6" y="387.0" width="9.0" height="1.6000000000000227" rx="0" fill="#fafafa" stroke="none" stroke-width="0" />
<path d="M264.0,393.00 Q264.0,391.40 266.5,391.40 L277.5,391.40 Q280.0,391.40 280.0,393.00 Q280.0,394.60 277.5,394.60 L266.5,394.60 Q264.0,394.60 264.0,393.00 Z" fill="#b0b0b0" stroke="#5a5a5a" stroke-width="0.9" />
<rect x="267.6" y="392.2" width="9.0" height="1.6000000000000227" rx="0" fill="#fafafa" stroke="none" stroke-width="0" />
<path d="M264.0,398.30 Q264.0,396.70 266.5,396.70 L277.5,396.70 Q280.0,396.70 280.0,398.30 Q280.0,399.90 277.5,399.90 L266.5,399.90 Q264.0,399.90 264.0,398.30 Z" fill="#b0b0b0" stroke="#5a5a5a" stroke-width="0.9" />
<rect x="267.6" y="397.5" width="9.0" height="1.6000000000000227" rx="0" fill="#fafafa" stroke="none" stroke-width="0" />
<path d="M264.0,403.50 Q264.0,401.90 266.5,401.90 L277.5,401.90 Q280.0,401.90 280.0,403.50 Q280.0,405.10 277.5,405.10 L266.5,405.10 Q264.0,405.10 264.0,403.50 Z" fill="#b0b0b0" stroke="#5a5a5a" stroke-width="0.9" />
<rect x="267.6" y="402.7" width="9.0" height="1.6000000000000227" rx="0" fill="#d8d8d8" stroke="none" stroke-width="0" />
<path d="M289.0,387.80 Q289.0,386.20 291.5,386.20 L302.5,386.20 Q305.0,386.20 305.0,387.80 Q305.0,389.40 302.5,389.40 L291.5,389.40 Q289.0,389.40 289.0,387.80 Z" fill="#b0b0b0" stroke="#5a5a5a" stroke-width="0.9" />
<rect x="292.6" y="387.0" width="9.0" height="1.6000000000000227" rx="0" fill="#fafafa" stroke="none" stroke-width="0" />
<path d="M289.0,393.00 Q289.0,391.40 291.5,391.40 L302.5,391.40 Q305.0,391.40 305.0,393.00 Q305.0,394.60 302.5,394.60 L291.5,394.60 Q289.0,394.60 289.0,393.00 Z" fill="#b0b0b0" stroke="#5a5a5a" stroke-width="0.9" />
<rect x="292.6" y="392.2" width="9.0" height="1.6000000000000227" rx="0" fill="#fafafa" stroke="none" stroke-width="0" />
<path d="M289.0,398.30 Q289.0,396.70 291.5,396.70 L302.5,396.70 Q305.0,396.70 305.0,398.30 Q305.0,399.90 302.5,399.90 L291.5,399.90 Q289.0,399.90 289.0,398.30 Z" fill="#b0b0b0" stroke="#5a5a5a" stroke-width="0.9" />
<rect x="292.6" y="397.5" width="9.0" height="1.6000000000000227" rx="0" fill="#fafafa" stroke="none" stroke-width="0" />
<path d="M289.0,403.50 Q289.0,401.90 291.5,401.90 L302.5,401.90 Q305.0,401.90 305.0,403.50 Q305.0,405.10 302.5,405.10 L291.5,405.10 Q289.0,405.10 289.0,403.50 Z" fill="#b0b0b0" stroke="#5a5a5a" stroke-width="0.9" />
<rect x="292.6" y="402.7" width="9.0" height="1.6000000000000227" rx="0" fill="#d8d8d8" stroke="none" stroke-width="0" />
<path d="M314.0,387.80 Q314.0,386.20 316.5,386.20 L327.5,386.20 Q330.0,386.20 330.0,387.80 Q330.0,389.40 327.5,389.40 L316.5,389.40 Q314.0,389.40 314.0,387.80 Z" fill="#b0b0b0" stroke="#5a5a5a" stroke-width="0.9" />
<rect x="317.6" y="387.0" width="9.0" height="1.6000000000000227" rx="0" fill="#fafafa" stroke="none" stroke-width="0" />
<path d="M314.0,393.00 Q314.0,391.40 316.5,391.40 L327.5,391.40 Q330.0,391.40 330.0,393.00 Q330.0,394.60 327.5,394.60 L316.5,394.60 Q314.0,394.60 314.0,393.00 Z" fill="#b0b0b0" stroke="#5a5a5a" stroke-width="0.9" />
<rect x="317.6" y="392.2" width="9.0" height="1.6000000000000227" rx="0" fill="#fafafa" stroke="none" stroke-width="0" />
<path d="M314.0,398.30 Q314.0,396.70 316.5,396.70 L327.5,396.70 Q330.0,396.70 330.0,398.30 Q330.0,399.90 327.5,399.90 L316.5,399.90 Q314.0,399.90 314.0,398.30 Z" fill="#b0b0b0" stroke="#5a5a5a" stroke-width="0.9" />
<rect x="317.6" y="397.5" width="9.0" height="1.6000000000000227" rx="0" fill="#fafafa" stroke="none" stroke-width="0" />
<path d="M314.0,403.50 Q314.0,401.90 316.5,401.90 L327.5,401.90 Q330.0,401.90 330.0,403.50 Q330.0,405.10 327.5,405.10 L316.5,405.10 Q314.0,405.10 314.0,403.50 Z" fill="#b0b0b0" stroke="#5a5a5a" stroke-width="0.9" />
<rect x="317.6" y="402.7" width="9.0" height="1.6000000000000227" rx="0" fill="#d8d8d8" stroke="none" stroke-width="0" />
<line x1="137.8" y1="410.1" x2="340" y2="410.1" stroke="#464646" stroke-width="1.7" />
<line x1="339.8" y1="259.9" x2="339.8" y2="410.0" stroke="#5a5a5a" stroke-width="1.4" />
<line x1="143.5" y1="410.8" x2="143.5" y2="436" stroke="#a4a4a4" stroke-width="2.2" />
<line x1="157.4" y1="410.8" x2="157.4" y2="436" stroke="#a4a4a4" stroke-width="2.4" />
<rect x="144.29999999999998" y="417.8" width="12.6" height="32" rx="6.1" fill="#fff" stroke="#444" stroke-width="1.1" />
<line x1="149.6" y1="418.5" x2="149.6" y2="449.2" stroke="#777" stroke-width="0.8" />
<line x1="151.29999999999998" y1="418.5" x2="151.29999999999998" y2="449.2" stroke="#777" stroke-width="0.8" />
<rect x="141.0" y="431.0" width="2.8" height="5.6" rx="1.3" fill="#ddd" stroke="#555" stroke-width="0.8" />
<rect x="157.6" y="431.0" width="2.8" height="5.6" rx="1.3" fill="#ddd" stroke="#555" stroke-width="0.8" />
<line x1="321.79999999999995" y1="410.8" x2="321.79999999999995" y2="436" stroke="#a4a4a4" stroke-width="2.2" />
<line x1="335.7" y1="410.8" x2="335.7" y2="436" stroke="#a4a4a4" stroke-width="2.4" />
<rect x="322.59999999999997" y="417.8" width="12.6" height="32" rx="6.1" fill="#fff" stroke="#444" stroke-width="1.1" />
<line x1="327.9" y1="418.5" x2="327.9" y2="449.2" stroke="#777" stroke-width="0.8" />
<line x1="329.59999999999997" y1="418.5" x2="329.59999999999997" y2="449.2" stroke="#777" stroke-width="0.8" />
<rect x="319.29999999999995" y="431.0" width="2.8" height="5.6" rx="1.3" fill="#ddd" stroke="#555" stroke-width="0.8" />
<rect x="335.9" y="431.0" width="2.8" height="5.6" rx="1.3" fill="#ddd" stroke="#555" stroke-width="0.8" />
<line x1="394.5" y1="105.3" x2="394.5" y2="409.8" stroke="#555" stroke-width="1.0" />
<line x1="400.7" y1="105.3" x2="400.7" y2="409.8" stroke="#555" stroke-width="1.1" />
<rect x="382.1" y="100.3" width="160" height="5.2" rx="1.0" fill="#fff" stroke="#666" stroke-width="1.2" />
<line x1="364.6" y1="108.1" x2="391.6" y2="108.1" stroke="#444" stroke-width="1.3" />
<rect x="389.3" y="105.4" width="4.199999999999989" height="118.79999999999998" rx="0" fill="#cfcfcf" stroke="none" stroke-width="0" />
<line x1="389.6" y1="105.4" x2="389.6" y2="108.2" stroke="#555" stroke-width="1.0" />
<path d="M384,105.4 L385.2,107.8 L386.4,105.4" fill="none" stroke="#555" stroke-width="0.9" />
<line x1="365.2" y1="108.2" x2="365.2" y2="224.2" stroke="#666" stroke-width="1.0" />
<line x1="372.1" y1="108.2" x2="372.1" y2="224.2" stroke="#555" stroke-width="1.1" />
<line x1="382.6" y1="108.2" x2="382.6" y2="224.2" stroke="#777" stroke-width="1.0" />
<line x1="389.3" y1="108.2" x2="389.3" y2="224.2" stroke="#555" stroke-width="1.0" />
<line x1="392.6" y1="108.2" x2="392.6" y2="224.2" stroke="#bbb" stroke-width="0.9" />
<line x1="365" y1="224.2" x2="392.4" y2="224.2" stroke="#555" stroke-width="1.0" />
<rect x="383.5" y="222" width="5.0" height="2.1999999999999886" rx="0" fill="none" stroke="#555" stroke-width="0.8" />
<path d="M394.4,225.2 L380.4,225.2 L380.4,253.3 Q380.4,255.3 382.4,255.3 L394.4,255.3" fill="none" stroke="#555" stroke-width="1.0" />
<rect x="381.8" y="255.3" width="160.2" height="5" rx="0.8" fill="#fff" stroke="#555" stroke-width="1.1" />
<line x1="364.6" y1="263.1" x2="391.6" y2="263.1" stroke="#444" stroke-width="1.3" />
<rect x="389.3" y="260.4" width="4.199999999999989" height="118.80000000000001" rx="0" fill="#cfcfcf" stroke="none" stroke-width="0" />
<line x1="389.6" y1="260.4" x2="389.6" y2="263.2" stroke="#555" stroke-width="1.0" />
<path d="M384,260.4 L385.2,262.8 L386.4,260.4" fill="none" stroke="#555" stroke-width="0.9" />
<line x1="365.2" y1="263.2" x2="365.2" y2="379.2" stroke="#666" stroke-width="1.0" />
<line x1="372.1" y1="263.2" x2="372.1" y2="379.2" stroke="#555" stroke-width="1.1" />
<line x1="382.6" y1="263.2" x2="382.6" y2="379.2" stroke="#777" stroke-width="1.0" />
<line x1="389.3" y1="263.2" x2="389.3" y2="379.2" stroke="#555" stroke-width="1.0" />
<line x1="392.6" y1="263.2" x2="392.6" y2="379.2" stroke="#bbb" stroke-width="0.9" />
<line x1="365" y1="379.2" x2="392.4" y2="379.2" stroke="#555" stroke-width="1.0" />
<rect x="383.5" y="377" width="5.0" height="2.1999999999999886" rx="0" fill="none" stroke="#555" stroke-width="0.8" />
<path d="M394.4,379.4 L381,379.4 L381,409.8 L394.4,409.8" fill="none" stroke="#555" stroke-width="1.0" />
<line x1="381" y1="409.8" x2="542.3" y2="409.8" stroke="#555" stroke-width="1.1" />
<line x1="542.3" y1="90.7" x2="542.3" y2="409.8" stroke="#555" stroke-width="1.1" />
<line x1="563.2" y1="85.2" x2="563.2" y2="269.5" stroke="#666" stroke-width="1.1" />
<line x1="542.3" y1="90.7" x2="563.2" y2="90.7" stroke="#666" stroke-width="1.1" />
<line x1="542.3" y1="269.5" x2="563.2" y2="269.5" stroke="#666" stroke-width="1.0" />
<rect x="542.3" y="90.7" width="2.6000000000000227" height="13.599999999999994" rx="0" fill="none" stroke="#777" stroke-width="0.8" />
<rect x="542.5" y="126.6" width="18.799999999999955" height="21.30000000000001" rx="0" fill="#fff" stroke="#777" stroke-width="1.0" />
<line x1="542.5" y1="147.6" x2="561.3" y2="147.6" stroke="#333" stroke-width="1.6" />
<line x1="542.5" y1="126.6" x2="542.5" y2="147.9" stroke="#444" stroke-width="1.1" />
<line x1="542.5" y1="127.2" x2="560.6" y2="127.2" stroke="#333" stroke-width="1.6" />
<rect x="558.6" y="128" width="2.0" height="19" rx="0" fill="#bbb" stroke="none" stroke-width="0" />
<rect x="546.0" y="130.5" width="4.100000000000023" height="13.900000000000006" rx="0" fill="#b8b8b8" stroke="none" stroke-width="0" />
<line x1="546.0" y1="131.2" x2="550.1" y2="131.2" stroke="#666" stroke-width="0.8" />
<line x1="546.0" y1="133.0" x2="550.1" y2="133.0" stroke="#666" stroke-width="0.8" />
<line x1="546.0" y1="134.79999999999998" x2="550.1" y2="134.79999999999998" stroke="#666" stroke-width="0.8" />
<line x1="546.0" y1="136.6" x2="550.1" y2="136.6" stroke="#666" stroke-width="0.8" />
<line x1="546.0" y1="138.39999999999998" x2="550.1" y2="138.39999999999998" stroke="#666" stroke-width="0.8" />
<line x1="546.0" y1="140.2" x2="550.1" y2="140.2" stroke="#666" stroke-width="0.8" />
<line x1="546.0" y1="142.0" x2="550.1" y2="142.0" stroke="#666" stroke-width="0.8" />
<line x1="546.0" y1="143.79999999999998" x2="550.1" y2="143.79999999999998" stroke="#666" stroke-width="0.8" />
<line x1="548.05" y1="130.5" x2="548.05" y2="144.4" stroke="#999" stroke-width="0.6" />
<rect x="552.2" y="130.5" width="4.100000000000023" height="13.900000000000006" rx="0" fill="#b8b8b8" stroke="none" stroke-width="0" />
<line x1="552.2" y1="131.2" x2="556.3000000000001" y2="131.2" stroke="#666" stroke-width="0.8" />
<line x1="552.2" y1="133.0" x2="556.3000000000001" y2="133.0" stroke="#666" stroke-width="0.8" />
<line x1="552.2" y1="134.79999999999998" x2="556.3000000000001" y2="134.79999999999998" stroke="#666" stroke-width="0.8" />
<line x1="552.2" y1="136.6" x2="556.3000000000001" y2="136.6" stroke="#666" stroke-width="0.8" />
<line x1="552.2" y1="138.39999999999998" x2="556.3000000000001" y2="138.39999999999998" stroke="#666" stroke-width="0.8" />
<line x1="552.2" y1="140.2" x2="556.3000000000001" y2="140.2" stroke="#666" stroke-width="0.8" />
<line x1="552.2" y1="142.0" x2="556.3000000000001" y2="142.0" stroke="#666" stroke-width="0.8" />
<line x1="552.2" y1="143.79999999999998" x2="556.3000000000001" y2="143.79999999999998" stroke="#666" stroke-width="0.8" />
<line x1="554.25" y1="130.5" x2="554.25" y2="144.4" stroke="#999" stroke-width="0.6" />
<rect x="560.4" y="132.2" width="38.200000000000045" height="2.5" rx="0" fill="#bbb" stroke="#555" stroke-width="0.9" />
<rect x="596.7" y="132.2" width="2.699999999999932" height="67.0" rx="0" fill="#aaa" stroke="#444" stroke-width="0.9" />
<rect x="542.5" y="196.8" width="56.10000000000002" height="2.5" rx="0" fill="#ccc" stroke="#555" stroke-width="0.9" />
<path d="M542.5,147.3 L587,147.3 Q589.6,147.3 589.6,150 L589.6,179.5 Q589.6,182.1 587,182.1 L542.5,182.1" fill="#fff" stroke="#444" stroke-width="1.1" />
<rect x="587.2" y="148" width="2.3999999999999773" height="33.5" rx="0" fill="#aaa" stroke="none" stroke-width="0" />
<rect x="589.6" y="156.7" width="4.699999999999932" height="16.900000000000006" rx="0" fill="#f4f4f4" stroke="#666" stroke-width="0.9" />
<rect x="594.3" y="148.2" width="2.400000000000091" height="35.80000000000001" rx="0" fill="#999" stroke="#444" stroke-width="0.9" />
<rect x="542.5" y="281.6" width="18.799999999999955" height="21.299999999999955" rx="0" fill="#fff" stroke="#777" stroke-width="1.0" />
<line x1="542.5" y1="302.6" x2="561.3" y2="302.6" stroke="#333" stroke-width="1.6" />
<line x1="542.5" y1="281.6" x2="542.5" y2="302.9" stroke="#444" stroke-width="1.1" />
<line x1="542.5" y1="282.2" x2="560.6" y2="282.2" stroke="#333" stroke-width="1.6" />
<rect x="558.6" y="283" width="2.0" height="19" rx="0" fill="#bbb" stroke="none" stroke-width="0" />
<rect x="546.0" y="285.5" width="4.100000000000023" height="13.899999999999977" rx="0" fill="#b8b8b8" stroke="none" stroke-width="0" />
<line x1="546.0" y1="286.2" x2="550.1" y2="286.2" stroke="#666" stroke-width="0.8" />
<line x1="546.0" y1="288.0" x2="550.1" y2="288.0" stroke="#666" stroke-width="0.8" />
<line x1="546.0" y1="289.8" x2="550.1" y2="289.8" stroke="#666" stroke-width="0.8" />
<line x1="546.0" y1="291.59999999999997" x2="550.1" y2="291.59999999999997" stroke="#666" stroke-width="0.8" />
<line x1="546.0" y1="293.4" x2="550.1" y2="293.4" stroke="#666" stroke-width="0.8" />
<line x1="546.0" y1="295.2" x2="550.1" y2="295.2" stroke="#666" stroke-width="0.8" />
<line x1="546.0" y1="297.0" x2="550.1" y2="297.0" stroke="#666" stroke-width="0.8" />
<line x1="546.0" y1="298.8" x2="550.1" y2="298.8" stroke="#666" stroke-width="0.8" />
<line x1="548.05" y1="285.5" x2="548.05" y2="299.4" stroke="#999" stroke-width="0.6" />
<rect x="552.2" y="285.5" width="4.100000000000023" height="13.899999999999977" rx="0" fill="#b8b8b8" stroke="none" stroke-width="0" />
<line x1="552.2" y1="286.2" x2="556.3000000000001" y2="286.2" stroke="#666" stroke-width="0.8" />
<line x1="552.2" y1="288.0" x2="556.3000000000001" y2="288.0" stroke="#666" stroke-width="0.8" />
<line x1="552.2" y1="289.8" x2="556.3000000000001" y2="289.8" stroke="#666" stroke-width="0.8" />
<line x1="552.2" y1="291.59999999999997" x2="556.3000000000001" y2="291.59999999999997" stroke="#666" stroke-width="0.8" />
<line x1="552.2" y1="293.4" x2="556.3000000000001" y2="293.4" stroke="#666" stroke-width="0.8" />
<line x1="552.2" y1="295.2" x2="556.3000000000001" y2="295.2" stroke="#666" stroke-width="0.8" />
<line x1="552.2" y1="297.0" x2="556.3000000000001" y2="297.0" stroke="#666" stroke-width="0.8" />
<line x1="552.2" y1="298.8" x2="556.3000000000001" y2="298.8" stroke="#666" stroke-width="0.8" />
<line x1="554.25" y1="285.5" x2="554.25" y2="299.4" stroke="#999" stroke-width="0.6" />
<rect x="560.4" y="287.2" width="38.200000000000045" height="2.5" rx="0" fill="#bbb" stroke="#555" stroke-width="0.9" />
<rect x="596.7" y="287.2" width="2.699999999999932" height="67.0" rx="0" fill="#aaa" stroke="#444" stroke-width="0.9" />
<rect x="542.5" y="351.8" width="56.10000000000002" height="2.5" rx="0" fill="#ccc" stroke="#555" stroke-width="0.9" />
<path d="M542.5,302.3 L587,302.3 Q589.6,302.3 589.6,305 L589.6,334.5 Q589.6,337.1 587,337.1 L542.5,337.1" fill="#fff" stroke="#444" stroke-width="1.1" />
<rect x="587.2" y="303" width="2.3999999999999773" height="33.5" rx="0" fill="#aaa" stroke="none" stroke-width="0" />
<rect x="589.6" y="311.7" width="4.699999999999932" height="16.900000000000034" rx="0" fill="#f4f4f4" stroke="#666" stroke-width="0.9" />
<rect x="594.3" y="303.2" width="2.400000000000091" height="35.80000000000001" rx="0" fill="#999" stroke="#444" stroke-width="0.9" />
<line x1="542.3" y1="90.7" x2="542.3" y2="409.8" stroke="#555" stroke-width="1.1" />
<circle cx="408.2" cy="434.2" r="15.6" fill="#fff" stroke="#666" stroke-width="1.1" />
<circle cx="408.2" cy="434.2" r="14.5" fill="none" stroke="#999" stroke-width="0.8" />
<circle cx="408.2" cy="434.2" r="12.6" fill="none" stroke="#aaa" stroke-width="0.8" />
<path d="M403.0,409.8 L403.0,435.2 Q403.0,438.0 405.59999999999997,438.0 L410.8,438.0 Q413.4,438.0 413.4,435.2 L413.4,409.8" fill="#fff" stroke="#666" stroke-width="1.0" />
<circle cx="408.2" cy="434.2" r="2.0" fill="none" stroke="#555" stroke-width="0.9" />
<rect x="399.2" y="409.8" width="18.0" height="1.3999999999999773" rx="0" fill="none" stroke="#888" stroke-width="0.7" />
<circle cx="530.2" cy="433.6" r="15.6" fill="#fff" stroke="#666" stroke-width="1.1" />
<circle cx="530.2" cy="433.6" r="14.5" fill="none" stroke="#999" stroke-width="0.8" />
<circle cx="530.2" cy="433.6" r="12.6" fill="none" stroke="#aaa" stroke-width="0.8" />
<path d="M525.0,409.8 L525.0,434.6 Q525.0,437.40000000000003 527.6,437.40000000000003 L532.8000000000001,437.40000000000003 Q535.4000000000001,437.40000000000003 535.4000000000001,434.6 L535.4000000000001,409.8" fill="#fff" stroke="#666" stroke-width="1.0" />
<circle cx="530.2" cy="433.6" r="2.0" fill="none" stroke="#555" stroke-width="0.9" />
<rect x="521.2" y="409.8" width="18.0" height="1.3999999999999773" rx="0" fill="none" stroke="#888" stroke-width="0.7" />
<line x1="672.2" y1="104.8" x2="672.2" y2="253" stroke="#333" stroke-width="2.2" />
<line x1="672.2" y1="257.6" x2="672.2" y2="405" stroke="#333" stroke-width="2.2" />
<path d="M672,405 Q672,409.2 675,409.2 L870,409.2 Q872.9,409.2 872.9,406" fill="none" stroke="#444" stroke-width="1.2" />
<line x1="673.8" y1="105" x2="673.8" y2="405" stroke="#777" stroke-width="0.8" />
<line x1="872.9" y1="100" x2="872.9" y2="406" stroke="#444" stroke-width="1.2" />
<line x1="873.6" y1="225" x2="873.6" y2="252" stroke="#333" stroke-width="1.2" />
<line x1="873.6" y1="380" x2="873.6" y2="409" stroke="#333" stroke-width="1.2" />
<rect x="671.2" y="99.9" width="201.6" height="4.9" rx="1.2" fill="none" stroke="#bbb" stroke-width="1.5" />
<line x1="672" y1="402.3" x2="872.9" y2="402.3" stroke="#555" stroke-width="1.0" />
<rect x="672" y="254.4" width="200.89999999999998" height="2.4999999999999716" rx="0" fill="#ddd" stroke="#999" stroke-width="0.9" />
<circle cx="704.3" cy="103" r="1.1" fill="#333" stroke="#333" stroke-width="0.5" />
<circle cx="736.1" cy="103" r="1.1" fill="#333" stroke="#333" stroke-width="0.5" />
<circle cx="768.4" cy="103" r="1.1" fill="#333" stroke="#333" stroke-width="0.5" />
<circle cx="800.2" cy="103" r="1.1" fill="#333" stroke="#333" stroke-width="0.5" />
<circle cx="863.9" cy="103" r="1.1" fill="#333" stroke="#333" stroke-width="0.5" />
<circle cx="680.9" cy="107.6" r="0.8" fill="#444" stroke="#444" stroke-width="0.5" />
<circle cx="740.6" cy="107.6" r="0.8" fill="#444" stroke="#444" stroke-width="0.5" />
<circle cx="800.2" cy="107.6" r="0.8" fill="#444" stroke="#444" stroke-width="0.5" />
<circle cx="681.3" cy="400.3" r="0.8" fill="#444" stroke="#444" stroke-width="0.5" />
<circle cx="740.4" cy="400.3" r="0.8" fill="#444" stroke="#444" stroke-width="0.5" />
<circle cx="799.5" cy="400.3" r="0.8" fill="#444" stroke="#444" stroke-width="0.5" />
<rect x="674.4" y="111.3" width="21.899999999999977" height="1.6" rx="0.8" fill="#b4b4b4" stroke="#8a8a8a" stroke-width="0.4" />
<rect x="684.3" y="111.5" width="1.8" height="1.2" rx="0" fill="#666" stroke="none" stroke-width="0" />
<rect x="688.7" y="111.5" width="2.7" height="1.2" rx="0" fill="#666" stroke="none" stroke-width="0" />
<rect x="684.2" y="111.5" width="3.0" height="1.2" rx="0" fill="#666" stroke="none" stroke-width="0" />
<rect x="693.8" y="111.25" width="2.6" height="1.7" rx="0" fill="#333" stroke="none" stroke-width="0" />
<rect x="674.4" y="114.8" width="21.899999999999977" height="1.6" rx="0.8" fill="#b4b4b4" stroke="#8a8a8a" stroke-width="0.4" />
<rect x="679.9" y="115.0" width="2.1" height="1.2" rx="0" fill="#666" stroke="none" stroke-width="0" />
<rect x="689.7" y="115.0" width="2.7" height="1.2" rx="0" fill="#666" stroke="none" stroke-width="0" />
<rect x="687.6" y="115.0" width="2.7" height="1.2" rx="0" fill="#666" stroke="none" stroke-width="0" />
<rect x="685.0" y="115.0" width="1.9" height="1.2" rx="0" fill="#666" stroke="none" stroke-width="0" />
<rect x="684.9" y="115.0" width="3.7" height="1.2" rx="0" fill="#666" stroke="none" stroke-width="0" />
<rect x="693.8" y="114.75" width="2.6" height="1.7" rx="0" fill="#333" stroke="none" stroke-width="0" />
<rect x="674.4" y="118.3" width="21.899999999999977" height="1.6" rx="0.8" fill="#b4b4b4" stroke="#8a8a8a" stroke-width="0.4" />
<rect x="681.6" y="118.5" width="1.5" height="1.2" rx="0" fill="#666" stroke="none" stroke-width="0" />
<rect x="686.8" y="118.5" width="1.9" height="1.2" rx="0" fill="#666" stroke="none" stroke-width="0" />
<rect x="689.2" y="118.5" width="1.6" height="1.2" rx="0" fill="#666" stroke="none" stroke-width="0" />
<rect x="686.9" y="118.5" width="3.6" height="1.2" rx="0" fill="#666" stroke="none" stroke-width="0" />
<rect x="680.0" y="118.5" width="3.0" height="1.2" rx="0" fill="#666" stroke="none" stroke-width="0" />
<rect x="688.7" y="118.5" width="2.5" height="1.2" rx="0" fill="#666" stroke="none" stroke-width="0" />
<rect x="693.8" y="118.25" width="2.6" height="1.7" rx="0" fill="#333" stroke="none" stroke-width="0" />
<rect x="674.4" y="121.8" width="21.899999999999977" height="1.6" rx="0.8" fill="#b4b4b4" stroke="#8a8a8a" stroke-width="0.4" />
<rect x="681.7" y="122.0" width="3.5" height="1.2" rx="0" fill="#666" stroke="none" stroke-width="0" />
<rect x="682.4" y="122.0" width="3.8" height="1.2" rx="0" fill="#666" stroke="none" stroke-width="0" />
<rect x="688.2" y="122.0" width="1.7" height="1.2" rx="0" fill="#666" stroke="none" stroke-width="0" />
<rect x="678.2" y="122.0" width="2.0" height="1.2" rx="0" fill="#666" stroke="none" stroke-width="0" />
<rect x="689.3" y="122.0" width="2.6" height="1.2" rx="0" fill="#666" stroke="none" stroke-width="0" />
<rect x="693.8" y="121.75" width="2.6" height="1.7" rx="0" fill="#333" stroke="none" stroke-width="0" />
<rect x="703.3" y="120.7" width="41.700000000000045" height="5.200000000000003" rx="0" fill="#fff" stroke="#999" stroke-width="1.0" />
<line x1="703.3" y1="120.7" x2="703.3" y2="125.9" stroke="#555" stroke-width="1.0" />
<path d="M744.8,125.9 L748.6,125.9 Q750.2,125.9 750.2,127.5 L750.2,145.2 Q750.2,146.8 748.6,146.8 L744.8,146.8" fill="#fff" stroke="#999" stroke-width="1.0" />
<rect x="714.3" y="146.8" width="30.700000000000045" height="5.0" rx="0" fill="#fff" stroke="#999" stroke-width="1.0" />
<path d="M674.4,125.9 L744.8,125.9 L744.8,146.6 L714.3,146.6 L714.3,159.3 L685.5,159.3 L685.5,146.6 L674.4,146.6" fill="#fff" stroke="#444" stroke-width="1.3"/>
<line x1="674.4" y1="125.9" x2="674.4" y2="160" stroke="#666" stroke-width="1.0" />
<line x1="674" y1="149.4" x2="685" y2="149.4" stroke="#aaa" stroke-width="1.4" />
<polygon points="683.6,155.6 682.2,158.1 679.4,158.1 678.0,155.6 679.4,153.1 682.2,153.1" fill="#ccc" stroke="#555" stroke-width="1.0"/>
<circle cx="715.2" cy="123.5" r="0.8" fill="#555" stroke="#555" stroke-width="0.6" />
<circle cx="741.2" cy="123.5" r="0.8" fill="#555" stroke="#555" stroke-width="0.6" />
<circle cx="742" cy="149" r="0.8" fill="#555" stroke="#555" stroke-width="0.6" />
<circle cx="748" cy="130" r="0.8" fill="#555" stroke="#555" stroke-width="0.6" />
<circle cx="748" cy="142" r="0.8" fill="#555" stroke="#555" stroke-width="0.6" />
<rect x="674.4" y="161.6" width="21.899999999999977" height="1.6" rx="0.8" fill="#b4b4b4" stroke="#8a8a8a" stroke-width="0.4" />
<rect x="682.0" y="161.8" width="3.6" height="1.2" rx="0" fill="#666" stroke="none" stroke-width="0" />
<rect x="684.1" y="161.8" width="2.8" height="1.2" rx="0" fill="#666" stroke="none" stroke-width="0" />
<rect x="681.9" y="161.8" width="2.1" height="1.2" rx="0" fill="#666" stroke="none" stroke-width="0" />
<rect x="680.9" y="161.8" width="3.8" height="1.2" rx="0" fill="#666" stroke="none" stroke-width="0" />
<rect x="693.8" y="161.55" width="2.6" height="1.7" rx="0" fill="#333" stroke="none" stroke-width="0" />
<rect x="674.4" y="164.97" width="21.899999999999977" height="1.6" rx="0.8" fill="#b4b4b4" stroke="#8a8a8a" stroke-width="0.4" />
<rect x="687.9" y="165.17000000000002" width="4.0" height="1.2" rx="0" fill="#666" stroke="none" stroke-width="0" />
<rect x="685.4" y="165.17000000000002" width="1.9" height="1.2" rx="0" fill="#666" stroke="none" stroke-width="0" />
<rect x="693.8" y="164.92000000000002" width="2.6" height="1.7" rx="0" fill="#333" stroke="none" stroke-width="0" />
<rect x="674.4" y="168.34" width="21.899999999999977" height="1.6" rx="0.8" fill="#b4b4b4" stroke="#8a8a8a" stroke-width="0.4" />
<rect x="689.3" y="168.54000000000002" width="3.8" height="1.2" rx="0" fill="#666" stroke="none" stroke-width="0" />
<rect x="684.0" y="168.54000000000002" width="3.3" height="1.2" rx="0" fill="#666" stroke="none" stroke-width="0" />
<rect x="679.2" y="168.54000000000002" width="3.6" height="1.2" rx="0" fill="#666" stroke="none" stroke-width="0" />
<rect x="684.1" y="168.54000000000002" width="2.2" height="1.2" rx="0" fill="#666" stroke="none" stroke-width="0" />
<rect x="693.8" y="168.29000000000002" width="2.6" height="1.7" rx="0" fill="#333" stroke="none" stroke-width="0" />
<rect x="674.4" y="171.70999999999998" width="21.899999999999977" height="1.6" rx="0.8" fill="#b4b4b4" stroke="#8a8a8a" stroke-width="0.4" />
<rect x="682.9" y="171.91" width="3.1" height="1.2" rx="0" fill="#666" stroke="none" stroke-width="0" />
<rect x="682.9" y="171.91" width="2.4" height="1.2" rx="0" fill="#666" stroke="none" stroke-width="0" />
<rect x="693.8" y="171.66" width="2.6" height="1.7" rx="0" fill="#333" stroke="none" stroke-width="0" />
<rect x="674.4" y="175.07999999999998" width="21.899999999999977" height="1.6" rx="0.8" fill="#b4b4b4" stroke="#8a8a8a" stroke-width="0.4" />
<rect x="681.9" y="175.28" width="1.9" height="1.2" rx="0" fill="#666" stroke="none" stroke-width="0" />
<rect x="680.3" y="175.28" width="3.4" height="1.2" rx="0" fill="#666" stroke="none" stroke-width="0" />
<rect x="693.8" y="175.03" width="2.6" height="1.7" rx="0" fill="#333" stroke="none" stroke-width="0" />
<rect x="674.4" y="178.45" width="21.899999999999977" height="1.6" rx="0.8" fill="#b4b4b4" stroke="#8a8a8a" stroke-width="0.4" />
<rect x="677.0" y="178.65" width="3.0" height="1.2" rx="0" fill="#666" stroke="none" stroke-width="0" />
<rect x="677.0" y="178.65" width="3.3" height="1.2" rx="0" fill="#666" stroke="none" stroke-width="0" />
<rect x="693.8" y="178.4" width="2.6" height="1.7" rx="0" fill="#333" stroke="none" stroke-width="0" />
<rect x="674.4" y="181.82" width="21.899999999999977" height="1.6" rx="0.8" fill="#b4b4b4" stroke="#8a8a8a" stroke-width="0.4" />
<rect x="683.8" y="182.02" width="3.8" height="1.2" rx="0" fill="#666" stroke="none" stroke-width="0" />
<rect x="680.1" y="182.02" width="2.1" height="1.2" rx="0" fill="#666" stroke="none" stroke-width="0" />
<rect x="676.9" y="182.02" width="1.5" height="1.2" rx="0" fill="#666" stroke="none" stroke-width="0" />
<rect x="677.8" y="182.02" width="2.8" height="1.2" rx="0" fill="#666" stroke="none" stroke-width="0" />
<rect x="693.8" y="181.77" width="2.6" height="1.7" rx="0" fill="#333" stroke="none" stroke-width="0" />
<rect x="674.4" y="185.19" width="21.899999999999977" height="1.6" rx="0.8" fill="#b4b4b4" stroke="#8a8a8a" stroke-width="0.4" />
<rect x="689.4" y="185.39000000000001" width="2.2" height="1.2" rx="0" fill="#666" stroke="none" stroke-width="0" />
<rect x="679.9" y="185.39000000000001" width="3.2" height="1.2" rx="0" fill="#666" stroke="none" stroke-width="0" />
<rect x="689.5" y="185.39000000000001" width="2.3" height="1.2" rx="0" fill="#666" stroke="none" stroke-width="0" />
<rect x="693.8" y="185.14000000000001" width="2.6" height="1.7" rx="0" fill="#333" stroke="none" stroke-width="0" />
<rect x="674.4" y="188.56" width="21.899999999999977" height="1.6" rx="0.8" fill="#b4b4b4" stroke="#8a8a8a" stroke-width="0.4" />
<rect x="689.2" y="188.76000000000002" width="3.7" height="1.2" rx="0" fill="#666" stroke="none" stroke-width="0" />
<rect x="681.5" y="188.76000000000002" width="2.7" height="1.2" rx="0" fill="#666" stroke="none" stroke-width="0" />
<rect x="683.4" y="188.76000000000002" width="3.1" height="1.2" rx="0" fill="#666" stroke="none" stroke-width="0" />
<rect x="684.4" y="188.76000000000002" width="2.9" height="1.2" rx="0" fill="#666" stroke="none" stroke-width="0" />
<rect x="693.8" y="188.51000000000002" width="2.6" height="1.7" rx="0" fill="#333" stroke="none" stroke-width="0" />
<rect x="674.4" y="191.93" width="21.899999999999977" height="1.6" rx="0.8" fill="#b4b4b4" stroke="#8a8a8a" stroke-width="0.4" />
<rect x="689.4" y="192.13000000000002" width="3.5" height="1.2" rx="0" fill="#666" stroke="none" stroke-width="0" />
<rect x="680.0" y="192.13000000000002" width="3.1" height="1.2" rx="0" fill="#666" stroke="none" stroke-width="0" />
<rect x="686.0" y="192.13000000000002" width="3.8" height="1.2" rx="0" fill="#666" stroke="none" stroke-width="0" />
<rect x="682.3" y="192.13000000000002" width="2.1" height="1.2" rx="0" fill="#666" stroke="none" stroke-width="0" />
<rect x="680.5" y="192.13000000000002" width="2.3" height="1.2" rx="0" fill="#666" stroke="none" stroke-width="0" />
<rect x="687.0" y="192.13000000000002" width="4.0" height="1.2" rx="0" fill="#666" stroke="none" stroke-width="0" />
<rect x="693.8" y="191.88000000000002" width="2.6" height="1.7" rx="0" fill="#333" stroke="none" stroke-width="0" />
<rect x="674.4" y="195.3" width="21.899999999999977" height="1.6" rx="0.8" fill="#b4b4b4" stroke="#8a8a8a" stroke-width="0.4" />
<rect x="676.7" y="195.50000000000003" width="3.0" height="1.2" rx="0" fill="#666" stroke="none" stroke-width="0" />
<rect x="684.9" y="195.50000000000003" width="1.7" height="1.2" rx="0" fill="#666" stroke="none" stroke-width="0" />
<rect x="684.8" y="195.50000000000003" width="2.7" height="1.2" rx="0" fill="#666" stroke="none" stroke-width="0" />
<rect x="685.5" y="195.50000000000003" width="2.4" height="1.2" rx="0" fill="#666" stroke="none" stroke-width="0" />
<rect x="693.8" y="195.25000000000003" width="2.6" height="1.7" rx="0" fill="#333" stroke="none" stroke-width="0" />
<rect x="674.4" y="198.67" width="21.899999999999977" height="1.6" rx="0.8" fill="#b4b4b4" stroke="#8a8a8a" stroke-width="0.4" />
<rect x="686.3" y="198.87" width="1.6" height="1.2" rx="0" fill="#666" stroke="none" stroke-width="0" />
<rect x="677.2" y="198.87" width="3.2" height="1.2" rx="0" fill="#666" stroke="none" stroke-width="0" />
<rect x="689.3" y="198.87" width="2.1" height="1.2" rx="0" fill="#666" stroke="none" stroke-width="0" />
<rect x="682.5" y="198.87" width="3.0" height="1.2" rx="0" fill="#666" stroke="none" stroke-width="0" />
<rect x="693.8" y="198.62" width="2.6" height="1.7" rx="0" fill="#333" stroke="none" stroke-width="0" />
<rect x="674.4" y="202.04" width="21.899999999999977" height="1.6" rx="0.8" fill="#b4b4b4" stroke="#8a8a8a" stroke-width="0.4" />
<rect x="678.8" y="202.24" width="2.0" height="1.2" rx="0" fill="#666" stroke="none" stroke-width="0" />
<rect x="686.6" y="202.24" width="3.6" height="1.2" rx="0" fill="#666" stroke="none" stroke-width="0" />
<rect x="679.9" y="202.24" width="3.5" height="1.2" rx="0" fill="#666" stroke="none" stroke-width="0" />
<rect x="677.8" y="202.24" width="3.5" height="1.2" rx="0" fill="#666" stroke="none" stroke-width="0" />
<rect x="693.8" y="201.99" width="2.6" height="1.7" rx="0" fill="#333" stroke="none" stroke-width="0" />
<rect x="674.4" y="205.41" width="21.899999999999977" height="1.6" rx="0.8" fill="#b4b4b4" stroke="#8a8a8a" stroke-width="0.4" />
<rect x="685.6" y="205.61" width="1.8" height="1.2" rx="0" fill="#666" stroke="none" stroke-width="0" />
<rect x="683.1" y="205.61" width="3.1" height="1.2" rx="0" fill="#666" stroke="none" stroke-width="0" />
<rect x="680.0" y="205.61" width="2.3" height="1.2" rx="0" fill="#666" stroke="none" stroke-width="0" />
<rect x="685.5" y="205.61" width="3.1" height="1.2" rx="0" fill="#666" stroke="none" stroke-width="0" />
<rect x="677.7" y="205.61" width="3.0" height="1.2" rx="0" fill="#666" stroke="none" stroke-width="0" />
<rect x="689.1" y="205.61" width="3.2" height="1.2" rx="0" fill="#666" stroke="none" stroke-width="0" />
<rect x="693.8" y="205.36" width="2.6" height="1.7" rx="0" fill="#333" stroke="none" stroke-width="0" />
<circle cx="691.4" cy="210.2" r="2.0" fill="none" stroke="#555" stroke-width="0.9" />
<rect x="674.4" y="216.1" width="21.899999999999977" height="1.6" rx="0.8" fill="#b4b4b4" stroke="#8a8a8a" stroke-width="0.4" />
<rect x="682.3" y="216.3" width="3.6" height="1.2" rx="0" fill="#666" stroke="none" stroke-width="0" />
<rect x="678.7" y="216.3" width="2.3" height="1.2" rx="0" fill="#666" stroke="none" stroke-width="0" />
<rect x="685.1" y="216.3" width="3.7" height="1.2" rx="0" fill="#666" stroke="none" stroke-width="0" />
<rect x="693.8" y="216.05" width="2.6" height="1.7" rx="0" fill="#333" stroke="none" stroke-width="0" />
<rect x="674.4" y="219.45" width="21.899999999999977" height="1.6" rx="0.8" fill="#b4b4b4" stroke="#8a8a8a" stroke-width="0.4" />
<rect x="680.0" y="219.65" width="3.5" height="1.2" rx="0" fill="#666" stroke="none" stroke-width="0" />
<rect x="676.9" y="219.65" width="3.9" height="1.2" rx="0" fill="#666" stroke="none" stroke-width="0" />
<rect x="680.6" y="219.65" width="3.6" height="1.2" rx="0" fill="#666" stroke="none" stroke-width="0" />
<rect x="684.1" y="219.65" width="3.7" height="1.2" rx="0" fill="#666" stroke="none" stroke-width="0" />
<rect x="681.0" y="219.65" width="3.6" height="1.2" rx="0" fill="#666" stroke="none" stroke-width="0" />
<rect x="693.8" y="219.4" width="2.6" height="1.7" rx="0" fill="#333" stroke="none" stroke-width="0" />
<rect x="674.4" y="222.79999999999998" width="21.899999999999977" height="1.6" rx="0.8" fill="#b4b4b4" stroke="#8a8a8a" stroke-width="0.4" />
<rect x="687.2" y="223.0" width="2.4" height="1.2" rx="0" fill="#666" stroke="none" stroke-width="0" />
<rect x="678.1" y="223.0" width="2.2" height="1.2" rx="0" fill="#666" stroke="none" stroke-width="0" />
<rect x="693.8" y="222.75" width="2.6" height="1.7" rx="0" fill="#333" stroke="none" stroke-width="0" />
<rect x="674.4" y="226.15" width="21.899999999999977" height="1.6" rx="0.8" fill="#b4b4b4" stroke="#8a8a8a" stroke-width="0.4" />
<rect x="682.6" y="226.35000000000002" width="3.1" height="1.2" rx="0" fill="#666" stroke="none" stroke-width="0" />
<rect x="680.3" y="226.35000000000002" width="2.9" height="1.2" rx="0" fill="#666" stroke="none" stroke-width="0" />
<rect x="676.9" y="226.35000000000002" width="2.5" height="1.2" rx="0" fill="#666" stroke="none" stroke-width="0" />
<rect x="679.1" y="226.35000000000002" width="2.7" height="1.2" rx="0" fill="#666" stroke="none" stroke-width="0" />
<rect x="693.8" y="226.10000000000002" width="2.6" height="1.7" rx="0" fill="#333" stroke="none" stroke-width="0" />
<rect x="674.4" y="229.5" width="21.899999999999977" height="1.6" rx="0.8" fill="#b4b4b4" stroke="#8a8a8a" stroke-width="0.4" />
<rect x="689.6" y="229.70000000000002" width="2.6" height="1.2" rx="0" fill="#666" stroke="none" stroke-width="0" />
<rect x="689.1" y="229.70000000000002" width="3.8" height="1.2" rx="0" fill="#666" stroke="none" stroke-width="0" />
<rect x="679.4" y="229.70000000000002" width="3.4" height="1.2" rx="0" fill="#666" stroke="none" stroke-width="0" />
<rect x="687.6" y="229.70000000000002" width="3.2" height="1.2" rx="0" fill="#666" stroke="none" stroke-width="0" />
<rect x="683.4" y="229.70000000000002" width="2.2" height="1.2" rx="0" fill="#666" stroke="none" stroke-width="0" />
<rect x="681.0" y="229.70000000000002" width="2.1" height="1.2" rx="0" fill="#666" stroke="none" stroke-width="0" />
<rect x="693.8" y="229.45000000000002" width="2.6" height="1.7" rx="0" fill="#333" stroke="none" stroke-width="0" />
<circle cx="698.5" cy="237.8" r="1.0" fill="#333" stroke="#333" stroke-width="0.5" />
<rect x="674.4" y="266.3" width="21.899999999999977" height="1.6" rx="0.8" fill="#b4b4b4" stroke="#8a8a8a" stroke-width="0.4" />
<rect x="687.9" y="266.5" width="3.9" height="1.2" rx="0" fill="#666" stroke="none" stroke-width="0" />
<rect x="678.0" y="266.5" width="2.1" height="1.2" rx="0" fill="#666" stroke="none" stroke-width="0" />
<rect x="693.8" y="266.25" width="2.6" height="1.7" rx="0" fill="#333" stroke="none" stroke-width="0" />
<rect x="674.4" y="269.8" width="21.899999999999977" height="1.6" rx="0.8" fill="#b4b4b4" stroke="#8a8a8a" stroke-width="0.4" />
<rect x="688.5" y="270.0" width="3.2" height="1.2" rx="0" fill="#666" stroke="none" stroke-width="0" />
<rect x="688.8" y="270.0" width="3.7" height="1.2" rx="0" fill="#666" stroke="none" stroke-width="0" />
<rect x="693.8" y="269.75" width="2.6" height="1.7" rx="0" fill="#333" stroke="none" stroke-width="0" />
<rect x="674.4" y="273.3" width="21.899999999999977" height="1.6" rx="0.8" fill="#b4b4b4" stroke="#8a8a8a" stroke-width="0.4" />
<rect x="684.1" y="273.5" width="1.5" height="1.2" rx="0" fill="#666" stroke="none" stroke-width="0" />
<rect x="686.4" y="273.5" width="1.9" height="1.2" rx="0" fill="#666" stroke="none" stroke-width="0" />
<rect x="680.4" y="273.5" width="3.2" height="1.2" rx="0" fill="#666" stroke="none" stroke-width="0" />
<rect x="683.4" y="273.5" width="2.5" height="1.2" rx="0" fill="#666" stroke="none" stroke-width="0" />
<rect x="689.0" y="273.5" width="3.0" height="1.2" rx="0" fill="#666" stroke="none" stroke-width="0" />
<rect x="693.8" y="273.25" width="2.6" height="1.7" rx="0" fill="#333" stroke="none" stroke-width="0" />
<rect x="674.4" y="276.8" width="21.899999999999977" height="1.6" rx="0.8" fill="#b4b4b4" stroke="#8a8a8a" stroke-width="0.4" />
<rect x="678.1" y="277.0" width="3.9" height="1.2" rx="0" fill="#666" stroke="none" stroke-width="0" />
<rect x="683.6" y="277.0" width="3.5" height="1.2" rx="0" fill="#666" stroke="none" stroke-width="0" />
<rect x="677.2" y="277.0" width="2.1" height="1.2" rx="0" fill="#666" stroke="none" stroke-width="0" />
<rect x="678.0" y="277.0" width="3.7" height="1.2" rx="0" fill="#666" stroke="none" stroke-width="0" />
<rect x="693.8" y="276.75" width="2.6" height="1.7" rx="0" fill="#333" stroke="none" stroke-width="0" />
<rect x="703.3" y="275.7" width="41.700000000000045" height="5.199999999999989" rx="0" fill="#fff" stroke="#999" stroke-width="1.0" />
<line x1="703.3" y1="275.7" x2="703.3" y2="280.9" stroke="#555" stroke-width="1.0" />
<path d="M744.8,280.9 L748.6,280.9 Q750.2,280.9 750.2,282.5 L750.2,300.2 Q750.2,301.8 748.6,301.8 L744.8,301.8" fill="#fff" stroke="#999" stroke-width="1.0" />
<rect x="714.3" y="301.8" width="30.700000000000045" height="5.0" rx="0" fill="#fff" stroke="#999" stroke-width="1.0" />
<path d="M674.4,280.9 L744.8,280.9 L744.8,301.6 L714.3,301.6 L714.3,314.3 L685.5,314.3 L685.5,301.6 L674.4,301.6" fill="#fff" stroke="#444" stroke-width="1.3"/>
<line x1="674.4" y1="280.9" x2="674.4" y2="315" stroke="#666" stroke-width="1.0" />
<line x1="674" y1="304.4" x2="685" y2="304.4" stroke="#aaa" stroke-width="1.4" />
<polygon points="683.6,310.6 682.2,313.1 679.4,313.1 678.0,310.6 679.4,308.1 682.2,308.1" fill="#ccc" stroke="#555" stroke-width="1.0"/>
<circle cx="715.2" cy="278.5" r="0.8" fill="#555" stroke="#555" stroke-width="0.6" />
<circle cx="741.2" cy="278.5" r="0.8" fill="#555" stroke="#555" stroke-width="0.6" />
<circle cx="742" cy="304" r="0.8" fill="#555" stroke="#555" stroke-width="0.6" />
<circle cx="748" cy="285" r="0.8" fill="#555" stroke="#555" stroke-width="0.6" />
<circle cx="748" cy="297" r="0.8" fill="#555" stroke="#555" stroke-width="0.6" />
<rect x="674.4" y="316.59999999999997" width="21.899999999999977" height="1.6" rx="0.8" fill="#b4b4b4" stroke="#8a8a8a" stroke-width="0.4" />
<rect x="678.7" y="316.79999999999995" width="3.5" height="1.2" rx="0" fill="#666" stroke="none" stroke-width="0" />
<rect x="688.8" y="316.79999999999995" width="3.5" height="1.2" rx="0" fill="#666" stroke="none" stroke-width="0" />
<rect x="693.8" y="316.54999999999995" width="2.6" height="1.7" rx="0" fill="#333" stroke="none" stroke-width="0" />
<rect x="674.4" y="319.96999999999997" width="21.899999999999977" height="1.6" rx="0.8" fill="#b4b4b4" stroke="#8a8a8a" stroke-width="0.4" />
<rect x="682.9" y="320.16999999999996" width="2.9" height="1.2" rx="0" fill="#666" stroke="none" stroke-width="0" />
<rect x="681.8" y="320.16999999999996" width="3.4" height="1.2" rx="0" fill="#666" stroke="none" stroke-width="0" />
<rect x="693.8" y="319.91999999999996" width="2.6" height="1.7" rx="0" fill="#333" stroke="none" stroke-width="0" />
<rect x="674.4" y="323.34" width="21.899999999999977" height="1.6" rx="0.8" fill="#b4b4b4" stroke="#8a8a8a" stroke-width="0.4" />
<rect x="680.0" y="323.53999999999996" width="2.8" height="1.2" rx="0" fill="#666" stroke="none" stroke-width="0" />
<rect x="682.1" y="323.53999999999996" width="2.7" height="1.2" rx="0" fill="#666" stroke="none" stroke-width="0" />
<rect x="686.8" y="323.53999999999996" width="1.5" height="1.2" rx="0" fill="#666" stroke="none" stroke-width="0" />
<rect x="693.8" y="323.28999999999996" width="2.6" height="1.7" rx="0" fill="#333" stroke="none" stroke-width="0" />
<rect x="674.4" y="326.71" width="21.899999999999977" height="1.6" rx="0.8" fill="#b4b4b4" stroke="#8a8a8a" stroke-width="0.4" />
<rect x="686.8" y="326.90999999999997" width="1.6" height="1.2" rx="0" fill="#666" stroke="none" stroke-width="0" />
<rect x="677.1" y="326.90999999999997" width="2.7" height="1.2" rx="0" fill="#666" stroke="none" stroke-width="0" />
<rect x="693.8" y="326.65999999999997" width="2.6" height="1.7" rx="0" fill="#333" stroke="none" stroke-width="0" />
<rect x="674.4" y="330.08" width="21.899999999999977" height="1.6" rx="0.8" fill="#b4b4b4" stroke="#8a8a8a" stroke-width="0.4" />
<rect x="687.8" y="330.28" width="1.7" height="1.2" rx="0" fill="#666" stroke="none" stroke-width="0" />
<rect x="683.1" y="330.28" width="2.3" height="1.2" rx="0" fill="#666" stroke="none" stroke-width="0" />
<rect x="693.8" y="330.03" width="2.6" height="1.7" rx="0" fill="#333" stroke="none" stroke-width="0" />
<rect x="674.4" y="333.45" width="21.899999999999977" height="1.6" rx="0.8" fill="#b4b4b4" stroke="#8a8a8a" stroke-width="0.4" />
<rect x="677.4" y="333.65" width="2.5" height="1.2" rx="0" fill="#666" stroke="none" stroke-width="0" />
<rect x="681.6" y="333.65" width="2.3" height="1.2" rx="0" fill="#666" stroke="none" stroke-width="0" />
<rect x="680.0" y="333.65" width="4.0" height="1.2" rx="0" fill="#666" stroke="none" stroke-width="0" />
<rect x="682.1" y="333.65" width="1.8" height="1.2" rx="0" fill="#666" stroke="none" stroke-width="0" />
<rect x="693.8" y="333.4" width="2.6" height="1.7" rx="0" fill="#333" stroke="none" stroke-width="0" />
<rect x="674.4" y="336.82" width="21.899999999999977" height="1.6" rx="0.8" fill="#b4b4b4" stroke="#8a8a8a" stroke-width="0.4" />
<rect x="686.0" y="337.02" width="2.5" height="1.2" rx="0" fill="#666" stroke="none" stroke-width="0" />
<rect x="677.5" y="337.02" width="1.9" height="1.2" rx="0" fill="#666" stroke="none" stroke-width="0" />
<rect x="693.8" y="336.77" width="2.6" height="1.7" rx="0" fill="#333" stroke="none" stroke-width="0" />
<rect x="674.4" y="340.18999999999994" width="21.899999999999977" height="1.6" rx="0.8" fill="#b4b4b4" stroke="#8a8a8a" stroke-width="0.4" />
<rect x="682.6" y="340.38999999999993" width="3.1" height="1.2" rx="0" fill="#666" stroke="none" stroke-width="0" />
<rect x="683.7" y="340.38999999999993" width="3.1" height="1.2" rx="0" fill="#666" stroke="none" stroke-width="0" />
<rect x="677.0" y="340.38999999999993" width="3.7" height="1.2" rx="0" fill="#666" stroke="none" stroke-width="0" />
<rect x="677.1" y="340.38999999999993" width="3.1" height="1.2" rx="0" fill="#666" stroke="none" stroke-width="0" />
<rect x="693.8" y="340.13999999999993" width="2.6" height="1.7" rx="0" fill="#333" stroke="none" stroke-width="0" />
<rect x="674.4" y="343.55999999999995" width="21.899999999999977" height="1.6" rx="0.8" fill="#b4b4b4" stroke="#8a8a8a" stroke-width="0.4" />
<rect x="682.0" y="343.75999999999993" width="3.2" height="1.2" rx="0" fill="#666" stroke="none" stroke-width="0" />
<rect x="682.6" y="343.75999999999993" width="2.1" height="1.2" rx="0" fill="#666" stroke="none" stroke-width="0" />
<rect x="683.6" y="343.75999999999993" width="3.2" height="1.2" rx="0" fill="#666" stroke="none" stroke-width="0" />
<rect x="677.4" y="343.75999999999993" width="2.6" height="1.2" rx="0" fill="#666" stroke="none" stroke-width="0" />
<rect x="693.8" y="343.50999999999993" width="2.6" height="1.7" rx="0" fill="#333" stroke="none" stroke-width="0" />
<rect x="674.4" y="346.92999999999995" width="21.899999999999977" height="1.6" rx="0.8" fill="#b4b4b4" stroke="#8a8a8a" stroke-width="0.4" />
<rect x="678.1" y="347.12999999999994" width="1.6" height="1.2" rx="0" fill="#666" stroke="none" stroke-width="0" />
<rect x="680.8" y="347.12999999999994" width="3.9" height="1.2" rx="0" fill="#666" stroke="none" stroke-width="0" />
<rect x="683.9" y="347.12999999999994" width="3.7" height="1.2" rx="0" fill="#666" stroke="none" stroke-width="0" />
<rect x="678.0" y="347.12999999999994" width="3.2" height="1.2" rx="0" fill="#666" stroke="none" stroke-width="0" />
<rect x="689.0" y="347.12999999999994" width="3.3" height="1.2" rx="0" fill="#666" stroke="none" stroke-width="0" />
<rect x="693.8" y="346.87999999999994" width="2.6" height="1.7" rx="0" fill="#333" stroke="none" stroke-width="0" />
<rect x="674.4" y="350.29999999999995" width="21.899999999999977" height="1.6" rx="0.8" fill="#b4b4b4" stroke="#8a8a8a" stroke-width="0.4" />
<rect x="687.0" y="350.49999999999994" width="3.2" height="1.2" rx="0" fill="#666" stroke="none" stroke-width="0" />
<rect x="686.2" y="350.49999999999994" width="2.9" height="1.2" rx="0" fill="#666" stroke="none" stroke-width="0" />
<rect x="677.8" y="350.49999999999994" width="3.0" height="1.2" rx="0" fill="#666" stroke="none" stroke-width="0" />
<rect x="676.5" y="350.49999999999994" width="1.9" height="1.2" rx="0" fill="#666" stroke="none" stroke-width="0" />
<rect x="686.8" y="350.49999999999994" width="1.6" height="1.2" rx="0" fill="#666" stroke="none" stroke-width="0" />
<rect x="677.6" y="350.49999999999994" width="1.7" height="1.2" rx="0" fill="#666" stroke="none" stroke-width="0" />
<rect x="693.8" y="350.24999999999994" width="2.6" height="1.7" rx="0" fill="#333" stroke="none" stroke-width="0" />
<rect x="674.4" y="353.66999999999996" width="21.899999999999977" height="1.6" rx="0.8" fill="#b4b4b4" stroke="#8a8a8a" stroke-width="0.4" />
<rect x="678.8" y="353.86999999999995" width="1.6" height="1.2" rx="0" fill="#666" stroke="none" stroke-width="0" />
<rect x="687.7" y="353.86999999999995" width="1.8" height="1.2" rx="0" fill="#666" stroke="none" stroke-width="0" />
<rect x="687.7" y="353.86999999999995" width="3.2" height="1.2" rx="0" fill="#666" stroke="none" stroke-width="0" />
<rect x="687.6" y="353.86999999999995" width="3.9" height="1.2" rx="0" fill="#666" stroke="none" stroke-width="0" />
<rect x="684.2" y="353.86999999999995" width="3.5" height="1.2" rx="0" fill="#666" stroke="none" stroke-width="0" />
<rect x="693.8" y="353.61999999999995" width="2.6" height="1.7" rx="0" fill="#333" stroke="none" stroke-width="0" />
<rect x="674.4" y="357.03999999999996" width="21.899999999999977" height="1.6" rx="0.8" fill="#b4b4b4" stroke="#8a8a8a" stroke-width="0.4" />
<rect x="689.7" y="357.23999999999995" width="2.9" height="1.2" rx="0" fill="#666" stroke="none" stroke-width="0" />
<rect x="683.5" y="357.23999999999995" width="2.1" height="1.2" rx="0" fill="#666" stroke="none" stroke-width="0" />
<rect x="693.8" y="356.98999999999995" width="2.6" height="1.7" rx="0" fill="#333" stroke="none" stroke-width="0" />
<rect x="674.4" y="360.40999999999997" width="21.899999999999977" height="1.6" rx="0.8" fill="#b4b4b4" stroke="#8a8a8a" stroke-width="0.4" />
<rect x="686.4" y="360.60999999999996" width="3.8" height="1.2" rx="0" fill="#666" stroke="none" stroke-width="0" />
<rect x="677.2" y="360.60999999999996" width="2.3" height="1.2" rx="0" fill="#666" stroke="none" stroke-width="0" />
<rect x="684.0" y="360.60999999999996" width="3.6" height="1.2" rx="0" fill="#666" stroke="none" stroke-width="0" />
<rect x="679.6" y="360.60999999999996" width="1.9" height="1.2" rx="0" fill="#666" stroke="none" stroke-width="0" />
<rect x="679.7" y="360.60999999999996" width="3.0" height="1.2" rx="0" fill="#666" stroke="none" stroke-width="0" />
<rect x="686.5" y="360.60999999999996" width="2.5" height="1.2" rx="0" fill="#666" stroke="none" stroke-width="0" />
<rect x="693.8" y="360.35999999999996" width="2.6" height="1.7" rx="0" fill="#333" stroke="none" stroke-width="0" />
<circle cx="691.4" cy="365.2" r="2.0" fill="none" stroke="#555" stroke-width="0.9" />
<rect x="674.4" y="371.09999999999997" width="21.899999999999977" height="1.6" rx="0.8" fill="#b4b4b4" stroke="#8a8a8a" stroke-width="0.4" />
<rect x="684.4" y="371.29999999999995" width="3.8" height="1.2" rx="0" fill="#666" stroke="none" stroke-width="0" />
<rect x="683.9" y="371.29999999999995" width="3.9" height="1.2" rx="0" fill="#666" stroke="none" stroke-width="0" />
<rect x="681.4" y="371.29999999999995" width="2.1" height="1.2" rx="0" fill="#666" stroke="none" stroke-width="0" />
<rect x="688.9" y="371.29999999999995" width="3.6" height="1.2" rx="0" fill="#666" stroke="none" stroke-width="0" />
<rect x="693.8" y="371.04999999999995" width="2.6" height="1.7" rx="0" fill="#333" stroke="none" stroke-width="0" />
<rect x="674.4" y="374.45" width="21.899999999999977" height="1.6" rx="0.8" fill="#b4b4b4" stroke="#8a8a8a" stroke-width="0.4" />
<rect x="682.0" y="374.65" width="2.9" height="1.2" rx="0" fill="#666" stroke="none" stroke-width="0" />
<rect x="684.2" y="374.65" width="3.8" height="1.2" rx="0" fill="#666" stroke="none" stroke-width="0" />
<rect x="685.6" y="374.65" width="1.9" height="1.2" rx="0" fill="#666" stroke="none" stroke-width="0" />
<rect x="693.8" y="374.4" width="2.6" height="1.7" rx="0" fill="#333" stroke="none" stroke-width="0" />
<rect x="674.4" y="377.79999999999995" width="21.899999999999977" height="1.6" rx="0.8" fill="#b4b4b4" stroke="#8a8a8a" stroke-width="0.4" />
<rect x="688.4" y="377.99999999999994" width="1.9" height="1.2" rx="0" fill="#666" stroke="none" stroke-width="0" />
<rect x="677.7" y="377.99999999999994" width="3.4" height="1.2" rx="0" fill="#666" stroke="none" stroke-width="0" />
<rect x="688.7" y="377.99999999999994" width="2.8" height="1.2" rx="0" fill="#666" stroke="none" stroke-width="0" />
<rect x="682.3" y="377.99999999999994" width="3.3" height="1.2" rx="0" fill="#666" stroke="none" stroke-width="0" />
<rect x="678.9" y="377.99999999999994" width="2.2" height="1.2" rx="0" fill="#666" stroke="none" stroke-width="0" />
<rect x="693.8" y="377.74999999999994" width="2.6" height="1.7" rx="0" fill="#333" stroke="none" stroke-width="0" />
<rect x="674.4" y="381.15" width="21.899999999999977" height="1.6" rx="0.8" fill="#b4b4b4" stroke="#8a8a8a" stroke-width="0.4" />
<rect x="678.4" y="381.34999999999997" width="2.8" height="1.2" rx="0" fill="#666" stroke="none" stroke-width="0" />
<rect x="688.9" y="381.34999999999997" width="3.6" height="1.2" rx="0" fill="#666" stroke="none" stroke-width="0" />
<rect x="683.6" y="381.34999999999997" width="3.4" height="1.2" rx="0" fill="#666" stroke="none" stroke-width="0" />
<rect x="693.8" y="381.09999999999997" width="2.6" height="1.7" rx="0" fill="#333" stroke="none" stroke-width="0" />
<rect x="674.4" y="384.49999999999994" width="21.899999999999977" height="1.6" rx="0.8" fill="#b4b4b4" stroke="#8a8a8a" stroke-width="0.4" />
<rect x="684.4" y="384.69999999999993" width="3.0" height="1.2" rx="0" fill="#666" stroke="none" stroke-width="0" />
<rect x="689.6" y="384.69999999999993" width="3.7" height="1.2" rx="0" fill="#666" stroke="none" stroke-width="0" />
<rect x="680.5" y="384.69999999999993" width="2.2" height="1.2" rx="0" fill="#666" stroke="none" stroke-width="0" />
<rect x="687.2" y="384.69999999999993" width="2.0" height="1.2" rx="0" fill="#666" stroke="none" stroke-width="0" />
<rect x="684.0" y="384.69999999999993" width="2.1" height="1.2" rx="0" fill="#666" stroke="none" stroke-width="0" />
<rect x="693.8" y="384.44999999999993" width="2.6" height="1.7" rx="0" fill="#333" stroke="none" stroke-width="0" />
<circle cx="698.5" cy="392.8" r="1.0" fill="#333" stroke="#333" stroke-width="0.5" />
<rect x="675.4" y="242" width="129.9" height="22.5" rx="2.2" fill="#fff" stroke="#555" stroke-width="1.1" />
<circle cx="680.9" cy="245.9" r="0.8" fill="#444" stroke="#444" stroke-width="0.5" />
<circle cx="740.3" cy="245.9" r="0.8" fill="#444" stroke="#444" stroke-width="0.5" />
<circle cx="800.2" cy="245.9" r="0.8" fill="#444" stroke="#444" stroke-width="0.5" />
<circle cx="680.9" cy="262.6" r="0.8" fill="#444" stroke="#444" stroke-width="0.5" />
<circle cx="740.3" cy="262.6" r="0.8" fill="#444" stroke="#444" stroke-width="0.5" />
<circle cx="800.2" cy="262.6" r="0.8" fill="#444" stroke="#444" stroke-width="0.5" />
<circle cx="704.8" cy="257.6" r="1.6" fill="#555" stroke="#333" stroke-width="0.6" />
<circle cx="736.6" cy="257.6" r="1.6" fill="#555" stroke="#333" stroke-width="0.6" />
<circle cx="768.4" cy="257.6" r="1.6" fill="#555" stroke="#333" stroke-width="0.6" />
<circle cx="800.2" cy="257.6" r="1.6" fill="#555" stroke="#333" stroke-width="0.6" />
<rect x="757.6" y="133.2" width="53.39999999999998" height="4.0" rx="0" fill="#fff" stroke="#666" stroke-width="0.9" />
<rect x="757.6" y="190.6" width="53.39999999999998" height="5.5" rx="0" fill="#fff" stroke="#666" stroke-width="0.9" />
<rect x="753.6" y="137.4" width="4.199999999999932" height="54.599999999999994" rx="0" fill="#fff" stroke="#666" stroke-width="0.9" />
<rect x="757.8" y="137.2" width="53.30000000000007" height="53.400000000000006" rx="0" fill="#fff" stroke="#777" stroke-width="1.0" />
<line x1="758.4" y1="137.2" x2="758.4" y2="190.6" stroke="#333" stroke-width="1.5" />
<line x1="757.8" y1="189.6" x2="811.1" y2="189.6" stroke="#333" stroke-width="1.5" />
<circle cx="764.2" cy="135.2" r="0.7" fill="#555" stroke="#555" stroke-width="0.5" />
<circle cx="764.2" cy="193.6" r="0.7" fill="#555" stroke="#555" stroke-width="0.5" />
<circle cx="785.2" cy="135.2" r="0.7" fill="#555" stroke="#555" stroke-width="0.5" />
<circle cx="785.2" cy="193.6" r="0.7" fill="#555" stroke="#555" stroke-width="0.5" />
<circle cx="806.1" cy="135.2" r="0.7" fill="#555" stroke="#555" stroke-width="0.5" />
<circle cx="806.1" cy="193.6" r="0.7" fill="#555" stroke="#555" stroke-width="0.5" />
<circle cx="768.5315187795399" cy="148.03151877954" r="1.1" fill="none" stroke="#333" stroke-width="0.9" />
<circle cx="800.06848122046" cy="148.03151877954" r="1.1" fill="none" stroke="#333" stroke-width="0.9" />
<circle cx="800.06848122046" cy="179.56848122046003" r="1.1" fill="none" stroke="#333" stroke-width="0.9" />
<circle cx="768.53151877954" cy="179.56848122046003" r="1.1" fill="none" stroke="#333" stroke-width="0.9" />
<path d="M768.59,156.80 L765.92,150.22 A3.4,3.4 0 0 1 770.72,145.42 L777.30,148.09 A17.2,17.2 0 0 1 791.30,148.09 L797.88,145.42 A3.4,3.4 0 0 1 802.68,150.22 L800.01,156.80 A17.2,17.2 0 0 1 800.01,170.80 L802.68,177.38 A3.4,3.4 0 0 1 797.88,182.18 L791.30,179.51 A17.2,17.2 0 0 1 777.30,179.51 L770.72,182.18 A3.4,3.4 0 0 1 765.92,177.38 L768.59,170.80 A17.2,17.2 0 0 1 768.59,156.80 Z" fill="#fff" stroke="#333" stroke-width="1.1" />
<circle cx="768.53151877954" cy="148.03151877954" r="1.1" fill="none" stroke="#333" stroke-width="0.9" />
<circle cx="800.06848122046" cy="148.03151877954" r="1.1" fill="none" stroke="#333" stroke-width="0.9" />
<circle cx="800.06848122046" cy="179.56848122046003" r="1.1" fill="none" stroke="#333" stroke-width="0.9" />
<circle cx="768.53151877954" cy="179.56848122046003" r="1.1" fill="none" stroke="#333" stroke-width="0.9" />
<circle cx="784.3" cy="163.8" r="17.1" fill="none" stroke="#333" stroke-width="1.1" />
<circle cx="784.3" cy="163.8" r="15.4" fill="none" stroke="#444" stroke-width="0.9" />
<circle cx="784.3" cy="163.8" r="8.6" fill="none" stroke="#333" stroke-width="1.1" />
<rect x="780.1" y="137.9" width="8.600000000000023" height="9.199999999999989" rx="0" fill="#fff" stroke="#555" stroke-width="0.9" />
<line x1="788.7" y1="137.9" x2="788.7" y2="147.1" stroke="#222" stroke-width="1.5" />
<path d="M778.6,139 A2.5,2.5 0 1 0 778.6,143.8 Z" fill="#bbb" stroke="#444" stroke-width="1.0" />
<rect x="757.6" y="288.2" width="53.39999999999998" height="4.0" rx="0" fill="#fff" stroke="#666" stroke-width="0.9" />
<rect x="757.6" y="345.6" width="53.39999999999998" height="5.5" rx="0" fill="#fff" stroke="#666" stroke-width="0.9" />
<rect x="753.6" y="292.4" width="4.199999999999932" height="54.60000000000002" rx="0" fill="#fff" stroke="#666" stroke-width="0.9" />
<rect x="811.2" y="292.4" width="4.899999999999977" height="54.60000000000002" rx="0" fill="#fff" stroke="#666" stroke-width="0.9" />
<rect x="757.8" y="292.2" width="53.30000000000007" height="53.400000000000034" rx="0" fill="#fff" stroke="#777" stroke-width="1.0" />
<line x1="758.4" y1="292.2" x2="758.4" y2="345.6" stroke="#333" stroke-width="1.5" />
<line x1="757.8" y1="344.6" x2="811.1" y2="344.6" stroke="#333" stroke-width="1.5" />
<circle cx="764.2" cy="290.2" r="0.7" fill="#555" stroke="#555" stroke-width="0.5" />
<circle cx="764.2" cy="348.6" r="0.7" fill="#555" stroke="#555" stroke-width="0.5" />
<circle cx="785.2" cy="290.2" r="0.7" fill="#555" stroke="#555" stroke-width="0.5" />
<circle cx="785.2" cy="348.6" r="0.7" fill="#555" stroke="#555" stroke-width="0.5" />
<circle cx="806.1" cy="290.2" r="0.7" fill="#555" stroke="#555" stroke-width="0.5" />
<circle cx="806.1" cy="348.6" r="0.7" fill="#555" stroke="#555" stroke-width="0.5" />
<circle cx="768.5315187795399" cy="303.03151877954" r="1.1" fill="none" stroke="#333" stroke-width="0.9" />
<circle cx="800.06848122046" cy="303.03151877954" r="1.1" fill="none" stroke="#333" stroke-width="0.9" />
<circle cx="800.06848122046" cy="334.56848122046" r="1.1" fill="none" stroke="#333" stroke-width="0.9" />
<circle cx="768.53151877954" cy="334.56848122046" r="1.1" fill="none" stroke="#333" stroke-width="0.9" />
<path d="M768.59,311.80 L765.92,305.22 A3.4,3.4 0 0 1 770.72,300.42 L777.30,303.09 A17.2,17.2 0 0 1 791.30,303.09 L797.88,300.42 A3.4,3.4 0 0 1 802.68,305.22 L800.01,311.80 A17.2,17.2 0 0 1 800.01,325.80 L802.68,332.38 A3.4,3.4 0 0 1 797.88,337.18 L791.30,334.51 A17.2,17.2 0 0 1 777.30,334.51 L770.72,337.18 A3.4,3.4 0 0 1 765.92,332.38 L768.59,325.80 A17.2,17.2 0 0 1 768.59,311.80 Z" fill="#fff" stroke="#333" stroke-width="1.1" />
<circle cx="768.53151877954" cy="303.03151877954" r="1.1" fill="none" stroke="#333" stroke-width="0.9" />
<circle cx="800.06848122046" cy="303.03151877954" r="1.1" fill="none" stroke="#333" stroke-width="0.9" />
<circle cx="800.06848122046" cy="334.56848122046" r="1.1" fill="none" stroke="#333" stroke-width="0.9" />
<circle cx="768.53151877954" cy="334.56848122046" r="1.1" fill="none" stroke="#333" stroke-width="0.9" />
<circle cx="784.3" cy="318.8" r="17.1" fill="none" stroke="#333" stroke-width="1.1" />
<circle cx="784.3" cy="318.8" r="15.4" fill="none" stroke="#444" stroke-width="0.9" />
<circle cx="784.3" cy="318.8" r="8.6" fill="none" stroke="#333" stroke-width="1.1" />
<rect x="780.1" y="292.9" width="8.600000000000023" height="9.200000000000045" rx="0" fill="#fff" stroke="#555" stroke-width="0.9" />
<line x1="788.7" y1="292.9" x2="788.7" y2="302.1" stroke="#222" stroke-width="1.5" />
<path d="M778.6,294 A2.5,2.5 0 1 0 778.6,298.8 Z" fill="#bbb" stroke="#444" stroke-width="1.0" />
<path d="M810.4,269.6 L810.4,90.4 L834.8,84.2 L859.7,90.4 L859.7,269.6 Z" fill="#fff" stroke="#555" stroke-width="1.1" />
<rect x="807.2" y="105.5" width="3.199999999999932" height="8.900000000000006" rx="0" fill="#fff" stroke="#666" stroke-width="0.9" />
<rect x="859.7" y="105.5" width="2.8999999999999773" height="8.900000000000006" rx="0" fill="#fff" stroke="#666" stroke-width="0.9" />
<rect x="807.2" y="257" width="3.199999999999932" height="13" rx="0" fill="#fff" stroke="#666" stroke-width="0.9" />
<rect x="859.7" y="257" width="2.8999999999999773" height="13" rx="0" fill="#fff" stroke="#666" stroke-width="0.9" />
<circle cx="864.2" cy="257.7" r="0.9" fill="#333" stroke="#333" stroke-width="0.4" />
<circle cx="805.6" cy="257.7" r="0.9" fill="#333" stroke="#333" stroke-width="0.4" />
<line x1="869.6" y1="111.8" x2="872.6" y2="111.8" stroke="#333" stroke-width="1.3" />
<line x1="869.6" y1="143.2" x2="872.6" y2="143.2" stroke="#333" stroke-width="1.3" />
<line x1="869.6" y1="174.6" x2="872.6" y2="174.6" stroke="#333" stroke-width="1.3" />
<line x1="869.6" y1="206.2" x2="872.6" y2="206.2" stroke="#333" stroke-width="1.3" />
<line x1="869.6" y1="237.6" x2="872.6" y2="237.6" stroke="#333" stroke-width="1.3" />
<line x1="869.6" y1="267.2" x2="872.6" y2="267.2" stroke="#333" stroke-width="1.3" />
<line x1="869.6" y1="298.6" x2="872.6" y2="298.6" stroke="#333" stroke-width="1.3" />
<line x1="869.6" y1="330" x2="872.6" y2="330" stroke="#333" stroke-width="1.3" />
<line x1="869.6" y1="361.4" x2="872.6" y2="361.4" stroke="#333" stroke-width="1.3" />
<line x1="869.6" y1="392.8" x2="872.6" y2="392.8" stroke="#333" stroke-width="1.3" />
<rect x="673.2" y="409.2" width="21.0" height="2.1999999999999886" rx="0" fill="#ddd" stroke="#999" stroke-width="0.8" />
<line x1="676.0" y1="411.4" x2="676.0" y2="436.5" stroke="#a4a4a4" stroke-width="2.0" />
<line x1="690.6" y1="411.4" x2="690.6" y2="436.5" stroke="#a4a4a4" stroke-width="2.0" />
<rect x="677.2" y="417.9" width="12.8" height="31.9" rx="6.2" fill="#fff" stroke="#444" stroke-width="1.1" />
<line x1="682.6" y1="418.5" x2="682.6" y2="449.3" stroke="#777" stroke-width="0.8" />
<line x1="684.5" y1="418.5" x2="684.5" y2="449.3" stroke="#777" stroke-width="0.8" />
<rect x="673.4" y="431.0" width="2.8" height="5.6" rx="1.3" fill="#ddd" stroke="#555" stroke-width="0.8" />
<rect x="691.0" y="431.0" width="2.8" height="5.6" rx="1.3" fill="#ddd" stroke="#555" stroke-width="0.8" />
<rect x="850.7" y="409.2" width="21.0" height="2.1999999999999886" rx="0" fill="#ddd" stroke="#999" stroke-width="0.8" />
<line x1="853.5" y1="411.4" x2="853.5" y2="436.5" stroke="#a4a4a4" stroke-width="2.0" />
<line x1="868.1" y1="411.4" x2="868.1" y2="436.5" stroke="#a4a4a4" stroke-width="2.0" />
<rect x="854.7" y="417.9" width="12.8" height="31.9" rx="6.2" fill="#fff" stroke="#444" stroke-width="1.1" />
<line x1="860.1" y1="418.5" x2="860.1" y2="449.3" stroke="#777" stroke-width="0.8" />
<line x1="862.0" y1="418.5" x2="862.0" y2="449.3" stroke="#777" stroke-width="0.8" />
<rect x="850.9" y="431.0" width="2.8" height="5.6" rx="1.3" fill="#ddd" stroke="#555" stroke-width="0.8" />
<rect x="868.5" y="431.0" width="2.8" height="5.6" rx="1.3" fill="#ddd" stroke="#555" stroke-width="0.8" />
</svg>
</body></html>
